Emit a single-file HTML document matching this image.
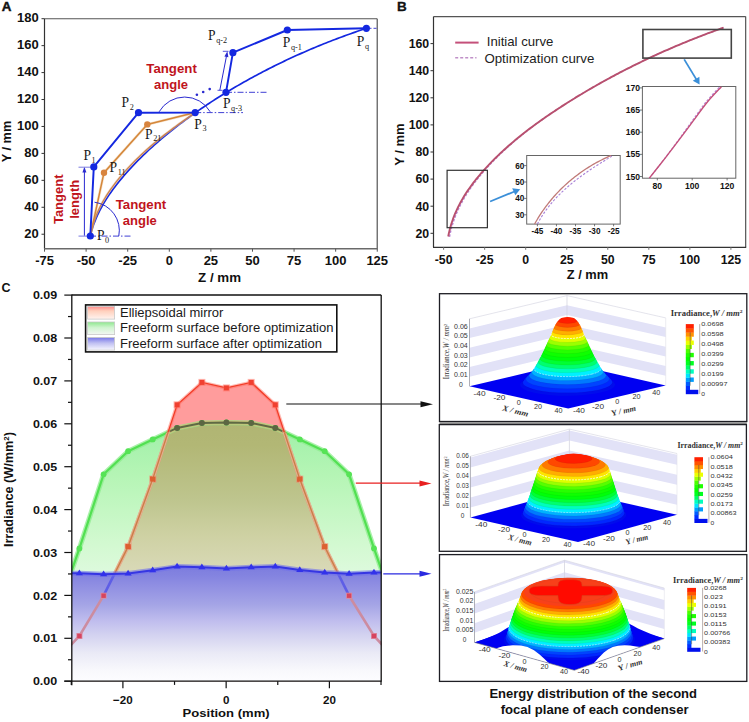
<!DOCTYPE html>
<html><head><meta charset="utf-8"><style>
html,body{margin:0;padding:0;background:#fff;}
svg{display:block;}
</style></head><body>
<svg width="749" height="722" viewBox="0 0 749 722">
<rect width="749" height="722" fill="#fff"/>
<text x="1.80" y="10.80" font-size="13.40" font-weight="bold" text-anchor="start" fill="#111" font-family="Liberation Sans" stroke="#111" stroke-width="0.45">A</text>
<line x1="44.50" y1="18.70" x2="377.20" y2="18.70" stroke="#555" stroke-width="1.10"/>
<line x1="377.20" y1="18.70" x2="377.20" y2="248.70" stroke="#444" stroke-width="1.10"/>
<line x1="44.50" y1="18.70" x2="44.50" y2="248.70" stroke="#333" stroke-width="1.20"/>
<line x1="44.00" y1="248.70" x2="377.70" y2="248.70" stroke="#6a6a6a" stroke-width="1.60"/>
<line x1="41.50" y1="234.22" x2="44.50" y2="234.22" stroke="#333" stroke-width="1.00"/>
<text x="38.80" y="237.62" font-size="13.00" font-weight="bold" text-anchor="end" fill="#111" font-family="Liberation Sans">20</text>
<line x1="41.50" y1="207.28" x2="44.50" y2="207.28" stroke="#333" stroke-width="1.00"/>
<text x="38.80" y="210.68" font-size="13.00" font-weight="bold" text-anchor="end" fill="#111" font-family="Liberation Sans">40</text>
<line x1="41.50" y1="180.34" x2="44.50" y2="180.34" stroke="#333" stroke-width="1.00"/>
<text x="38.80" y="183.74" font-size="13.00" font-weight="bold" text-anchor="end" fill="#111" font-family="Liberation Sans">60</text>
<line x1="41.50" y1="153.40" x2="44.50" y2="153.40" stroke="#333" stroke-width="1.00"/>
<text x="38.80" y="156.80" font-size="13.00" font-weight="bold" text-anchor="end" fill="#111" font-family="Liberation Sans">80</text>
<line x1="41.50" y1="126.46" x2="44.50" y2="126.46" stroke="#333" stroke-width="1.00"/>
<text x="38.80" y="129.86" font-size="13.00" font-weight="bold" text-anchor="end" fill="#111" font-family="Liberation Sans">100</text>
<line x1="41.50" y1="99.52" x2="44.50" y2="99.52" stroke="#333" stroke-width="1.00"/>
<text x="38.80" y="102.92" font-size="13.00" font-weight="bold" text-anchor="end" fill="#111" font-family="Liberation Sans">120</text>
<line x1="41.50" y1="72.58" x2="44.50" y2="72.58" stroke="#333" stroke-width="1.00"/>
<text x="38.80" y="75.98" font-size="13.00" font-weight="bold" text-anchor="end" fill="#111" font-family="Liberation Sans">140</text>
<line x1="41.50" y1="45.64" x2="44.50" y2="45.64" stroke="#333" stroke-width="1.00"/>
<text x="38.80" y="49.04" font-size="13.00" font-weight="bold" text-anchor="end" fill="#111" font-family="Liberation Sans">160</text>
<line x1="41.50" y1="18.70" x2="44.50" y2="18.70" stroke="#333" stroke-width="1.00"/>
<text x="38.80" y="22.10" font-size="13.00" font-weight="bold" text-anchor="end" fill="#111" font-family="Liberation Sans">180</text>
<line x1="44.53" y1="248.70" x2="44.53" y2="251.70" stroke="#555" stroke-width="1.00"/>
<text x="44.53" y="265.40" font-size="13.00" font-weight="bold" text-anchor="middle" fill="#111" font-family="Liberation Sans">-75</text>
<line x1="86.12" y1="248.70" x2="86.12" y2="251.70" stroke="#555" stroke-width="1.00"/>
<text x="86.12" y="265.40" font-size="13.00" font-weight="bold" text-anchor="middle" fill="#111" font-family="Liberation Sans">-50</text>
<line x1="127.71" y1="248.70" x2="127.71" y2="251.70" stroke="#555" stroke-width="1.00"/>
<text x="127.71" y="265.40" font-size="13.00" font-weight="bold" text-anchor="middle" fill="#111" font-family="Liberation Sans">-25</text>
<line x1="169.30" y1="248.70" x2="169.30" y2="251.70" stroke="#555" stroke-width="1.00"/>
<text x="169.30" y="265.40" font-size="13.00" font-weight="bold" text-anchor="middle" fill="#111" font-family="Liberation Sans">0</text>
<line x1="210.89" y1="248.70" x2="210.89" y2="251.70" stroke="#555" stroke-width="1.00"/>
<text x="210.89" y="265.40" font-size="13.00" font-weight="bold" text-anchor="middle" fill="#111" font-family="Liberation Sans">25</text>
<line x1="252.48" y1="248.70" x2="252.48" y2="251.70" stroke="#555" stroke-width="1.00"/>
<text x="252.48" y="265.40" font-size="13.00" font-weight="bold" text-anchor="middle" fill="#111" font-family="Liberation Sans">50</text>
<line x1="294.07" y1="248.70" x2="294.07" y2="251.70" stroke="#555" stroke-width="1.00"/>
<text x="294.07" y="265.40" font-size="13.00" font-weight="bold" text-anchor="middle" fill="#111" font-family="Liberation Sans">75</text>
<line x1="335.66" y1="248.70" x2="335.66" y2="251.70" stroke="#555" stroke-width="1.00"/>
<text x="335.66" y="265.40" font-size="13.00" font-weight="bold" text-anchor="middle" fill="#111" font-family="Liberation Sans">100</text>
<line x1="377.25" y1="248.70" x2="377.25" y2="251.70" stroke="#555" stroke-width="1.00"/>
<text x="377.25" y="265.40" font-size="13.00" font-weight="bold" text-anchor="middle" fill="#111" font-family="Liberation Sans">125</text>
<text x="219.60" y="281.60" font-size="12.80" font-weight="bold" text-anchor="middle" fill="#111" font-family="Liberation Sans" textLength="43.00" lengthAdjust="spacingAndGlyphs">Z / mm</text>
<text x="11.00" y="141.50" font-size="12.80" font-weight="bold" text-anchor="middle" fill="#111" font-family="Liberation Sans" transform="rotate(-90 11 141.5)">Y / mm</text>
<path d="M90.29,235.60 L90.90,233.24 L91.56,230.91 L92.26,228.61 L93.02,226.32 L93.82,224.06 L94.67,221.83 L95.56,219.61 L96.50,217.42 L97.47,215.25 L98.49,213.10 L99.55,210.97 L100.64,208.86 L101.77,206.77 L102.94,204.70 L104.14,202.65 L105.38,200.62 L106.65,198.60 L107.94,196.61 L109.27,194.63 L110.62,192.67 L112.01,190.73 L113.41,188.81 L114.84,186.90 L116.30,185.00 L117.77,183.12 L119.27,181.26 L120.79,179.41 L122.32,177.58 L123.87,175.76 L125.44,173.95 L127.02,172.16 L128.61,170.38 L130.22,168.61 L131.85,166.85 L133.49,165.11 L135.14,163.39 L136.81,161.67 L138.49,159.97 L140.18,158.28 L141.88,156.60 L143.60,154.93 L145.33,153.28 L147.07,151.63 L148.82,150.00 L150.59,148.38 L152.36,146.77 L154.15,145.18 L155.94,143.59 L157.75,142.02 L159.56,140.45 L161.39,138.90 L163.22,137.36 L165.06,135.82 L166.91,134.30 L168.77,132.79 L170.63,131.29 L172.51,129.79 L174.39,128.31 L176.27,126.84 L178.17,125.38 L180.07,123.92 L181.98,122.48 L183.89,121.04 L185.81,119.62 L187.73,118.20 L189.67,116.79 L191.60,115.39 L193.55,114.00 L195.50,112.62 L197.45,111.25 L199.42,109.89 L201.38,108.54 L203.36,107.19 L205.34,105.86 L207.32,104.53 L209.31,103.21 L211.31,101.90 L213.31,100.60 L215.32,99.30 L217.33,98.02 L219.35,96.74 L221.37,95.48 L223.40,94.22 L225.44,92.97 L227.48,91.72 L229.52,90.49 L231.57,89.26 L233.63,88.04 L235.69,86.83 L237.75,85.63 L239.82,84.44 L241.90,83.25 L243.98,82.07 L246.06,80.90 L248.15,79.74 L250.24,78.58 L252.34,77.44 L254.44,76.30 L256.55,75.16 L258.66,74.04 L260.78,72.92 L262.90,71.81 L265.02,70.71 L267.15,69.62 L269.29,68.53 L271.42,67.45 L273.56,66.38 L275.71,65.31 L277.86,64.25 L280.01,63.20 L282.17,62.16 L284.33,61.13 L286.49,60.10 L288.66,59.08 L290.84,58.07 L293.01,57.06 L295.19,56.07 L297.37,55.08 L299.56,54.10 L301.75,53.12 L303.94,52.16 L306.14,51.20 L308.34,50.25 L310.54,49.31 L312.75,48.37 L314.96,47.44 L317.17,46.52 L319.38,45.61 L321.60,44.71 L323.82,43.81 L326.04,42.92 L328.27,42.04 L330.50,41.17 L332.73,40.31 L334.97,39.45 L337.20,38.60 L339.44,37.76 L341.69,36.93 L343.93,36.10 L346.18,35.29 L348.43,34.48 L350.68,33.68 L352.93,32.89 L355.19,32.10 L357.45,31.32 L359.71,30.55 L361.97,29.79 L364.23,29.04 L366.50,28.30" fill="none" stroke="#1428e0" stroke-width="1.7"/>
<path d="M90.29,235.60 L90.69,233.19 L91.20,230.82 L91.78,228.46 L92.42,226.13 L93.11,223.82 L93.86,221.53 L94.66,219.26 L95.51,217.01 L96.41,214.79 L97.36,212.58 L98.35,210.40 L99.39,208.23 L100.47,206.09 L101.59,203.97 L102.75,201.87 L103.95,199.79 L105.18,197.73 L106.45,195.69 L107.75,193.67 L109.08,191.67 L110.45,189.69 L111.84,187.73 L113.26,185.79 L114.71,183.86 L116.18,181.96 L117.68,180.07 L119.20,178.20 L120.74,176.35 L122.29,174.52 L123.87,172.70 L125.46,170.90 L127.08,169.12 L128.70,167.35 L130.35,165.60 L132.01,163.86 L133.69,162.14 L135.38,160.43 L137.09,158.74 L138.81,157.06 L140.54,155.40 L142.29,153.75 L144.06,152.12 L145.83,150.50 L147.62,148.90 L149.42,147.31 L151.23,145.73 L153.06,144.17 L154.89,142.62 L156.74,141.08 L158.59,139.56 L160.46,138.05 L162.33,136.55 L164.22,135.06 L166.11,133.58 L168.01,132.12 L169.92,130.67 L171.84,129.23 L173.76,127.80 L175.69,126.38 L177.63,124.97 L179.57,123.57 L181.52,122.18 L183.47,120.81 L185.43,119.44 L187.40,118.08 L189.37,116.73 L191.35,115.39 L193.34,114.06 L195.33,112.74" fill="none" stroke="#eab88a" stroke-width="2.4" stroke-opacity="0.55"/>
<path d="M90.29,235.60 L90.69,233.19 L91.20,230.82 L91.78,228.46 L92.42,226.13 L93.11,223.82 L93.86,221.53 L94.66,219.26 L95.51,217.01 L96.41,214.79 L97.36,212.58 L98.35,210.40 L99.39,208.23 L100.47,206.09 L101.59,203.97 L102.75,201.87 L103.95,199.79 L105.18,197.73 L106.45,195.69 L107.75,193.67 L109.08,191.67 L110.45,189.69 L111.84,187.73 L113.26,185.79 L114.71,183.86 L116.18,181.96 L117.68,180.07 L119.20,178.20 L120.74,176.35 L122.29,174.52 L123.87,172.70 L125.46,170.90 L127.08,169.12 L128.70,167.35 L130.35,165.60 L132.01,163.86 L133.69,162.14 L135.38,160.43 L137.09,158.74 L138.81,157.06 L140.54,155.40 L142.29,153.75 L144.06,152.12 L145.83,150.50 L147.62,148.90 L149.42,147.31 L151.23,145.73 L153.06,144.17 L154.89,142.62 L156.74,141.08 L158.59,139.56 L160.46,138.05 L162.33,136.55 L164.22,135.06 L166.11,133.58 L168.01,132.12 L169.92,130.67 L171.84,129.23 L173.76,127.80 L175.69,126.38 L177.63,124.97 L179.57,123.57 L181.52,122.18 L183.47,120.81 L185.43,119.44 L187.40,118.08 L189.37,116.73 L191.35,115.39 L193.34,114.06 L195.33,112.74" fill="none" stroke="#c8804e" stroke-width="1.2"/>
<polyline points="90.3,236.0 104.0,172.7 147.3,124.4 195.2,112.6" fill="none" stroke="#e9b070" stroke-width="2.8" stroke-opacity="0.35"/>
<polyline points="90.3,236.0 104.0,172.7 147.3,124.4 195.2,112.6" fill="none" stroke="#d4873a" stroke-width="1.5"/>
<polyline points="90.3,236.0 93.8,166.9 138.5,112.7 195.2,112.6" fill="none" stroke="#1428e0" stroke-width="1.95" stroke-linejoin="round"/>
<polyline points="226.0,92.3 232.9,52.7 287.3,30.0 366.4,28.3" fill="none" stroke="#1428e0" stroke-width="1.95" stroke-linejoin="round"/>
<line x1="84.40" y1="235.80" x2="84.40" y2="171.50" stroke="#2a2ad0" stroke-width="1.00"/>
<path d="M84.4,166.8 L82.4,172.5 L86.4,172.5 Z" fill="#2a2ad0"/>
<line x1="78.50" y1="167.20" x2="93.00" y2="167.20" stroke="#7a7ae0" stroke-width="1.00"/>
<line x1="78.50" y1="236.10" x2="90.00" y2="236.10" stroke="#7a7ae0" stroke-width="1.00"/>
<line x1="90.00" y1="236.10" x2="132.00" y2="236.10" stroke="#2a2ad0" stroke-width="0.90" stroke-dasharray="6,2,1.5,2"/>
<path d="M118.8,236 A28.5,28.5 0 0 0 94.5,202.2" fill="none" stroke="#2a2ad0" stroke-width="1"/>
<path d="M159.1,111.8 A29.5,29.5 0 0 1 210.2,111.8" fill="none" stroke="#2a2ad0" stroke-width="1"/>
<line x1="195.20" y1="112.60" x2="243.00" y2="112.60" stroke="#2a2ad0" stroke-width="0.90" stroke-dasharray="6,2,1.5,2"/>
<line x1="226.00" y1="92.30" x2="268.00" y2="92.30" stroke="#2a2ad0" stroke-width="0.90" stroke-dasharray="6,2,1.5,2"/>
<line x1="370.00" y1="28.30" x2="376.50" y2="28.30" stroke="#2a2ad0" stroke-width="0.90" stroke-dasharray="1.5,2,4,2"/>
<line x1="219.80" y1="90.30" x2="226.60" y2="55.50" stroke="#2a2ad0" stroke-width="1.00"/>
<path d="M227.4,51.2 L224.4,56.5 L228.4,57.3 Z" fill="#2a2ad0"/>
<line x1="217.50" y1="90.30" x2="222.50" y2="90.30" stroke="#2a2ad0" stroke-width="0.80"/>
<line x1="222.80" y1="51.30" x2="228.50" y2="51.30" stroke="#2a2ad0" stroke-width="0.80"/>
<circle cx="196.9" cy="94.7" r="1.3" fill="#2a2ad0"/>
<circle cx="203.2" cy="92.0" r="1.3" fill="#2a2ad0"/>
<circle cx="209.7" cy="89.1" r="1.3" fill="#2a2ad0"/>
<circle cx="90.3" cy="236.0" r="3.6" fill="#1428e0"/>
<circle cx="93.8" cy="166.9" r="3.6" fill="#1428e0"/>
<circle cx="138.5" cy="112.7" r="3.6" fill="#1428e0"/>
<circle cx="195.2" cy="112.6" r="3.6" fill="#1428e0"/>
<circle cx="226.0" cy="92.3" r="3.6" fill="#1428e0"/>
<circle cx="232.9" cy="52.7" r="3.6" fill="#1428e0"/>
<circle cx="287.3" cy="30.0" r="3.6" fill="#1428e0"/>
<circle cx="366.4" cy="28.3" r="3.6" fill="#1428e0"/>
<circle cx="104.0" cy="172.7" r="3.2" fill="#d8843e"/>
<circle cx="147.3" cy="124.4" r="3.2" fill="#d8843e"/>
<text x="96.9" y="240.2" font-family="Liberation Serif" font-size="13.6" fill="#1a1a1a">P<tspan font-size="8.2" dy="2.6" dx="0.6">0</tspan></text>
<text x="83.4" y="160.0" font-family="Liberation Serif" font-size="13.6" fill="#1a1a1a">P<tspan font-size="8.2" dy="2.6" dx="0.6">1</tspan></text>
<text x="109.5" y="172.0" font-family="Liberation Serif" font-size="13.6" fill="#1a1a1a">P<tspan font-size="8.2" dy="2.6" dx="0.6">11</tspan></text>
<text x="121.6" y="107.4" font-family="Liberation Serif" font-size="13.6" fill="#1a1a1a">P<tspan font-size="8.2" dy="2.6" dx="0.6">2</tspan></text>
<text x="145.1" y="138.8" font-family="Liberation Serif" font-size="13.6" fill="#1a1a1a">P<tspan font-size="8.2" dy="2.6" dx="0.6">21</tspan></text>
<text x="194.3" y="128.7" font-family="Liberation Serif" font-size="13.6" fill="#1a1a1a">P<tspan font-size="8.2" dy="2.6" dx="0.6">3</tspan></text>
<text x="222.9" y="108.2" font-family="Liberation Serif" font-size="13.6" fill="#1a1a1a">P<tspan font-size="8.2" dy="3.0" dx="0.6">q-3</tspan></text>
<text x="208.0" y="39.9" font-family="Liberation Serif" font-size="13.6" fill="#1a1a1a">P<tspan font-size="8.2" dy="3.0" dx="0.6">q-2</tspan></text>
<text x="282.8" y="47.4" font-family="Liberation Serif" font-size="13.6" fill="#1a1a1a">P<tspan font-size="8.2" dy="3.0" dx="0.6">q-1</tspan></text>
<text x="356.8" y="45.5" font-family="Liberation Serif" font-size="13.6" fill="#1a1a1a">P<tspan font-size="8.2" dy="3.4" dx="0.6">q</tspan></text>
<text x="146.30" y="72.70" font-size="13.00" font-weight="bold" text-anchor="start" fill="#c0141c" font-family="Liberation Sans" textLength="50.50" lengthAdjust="spacingAndGlyphs">Tangent</text>
<text x="154.00" y="88.70" font-size="13.00" font-weight="bold" text-anchor="start" fill="#c0141c" font-family="Liberation Sans" textLength="34.00" lengthAdjust="spacingAndGlyphs">angle</text>
<text x="115.70" y="208.80" font-size="13.00" font-weight="bold" text-anchor="start" fill="#c0141c" font-family="Liberation Sans" textLength="50.50" lengthAdjust="spacingAndGlyphs">Tangent</text>
<text x="122.80" y="224.60" font-size="13.00" font-weight="bold" text-anchor="start" fill="#c0141c" font-family="Liberation Sans" textLength="34.00" lengthAdjust="spacingAndGlyphs">angle</text>
<text x="0" y="0" font-size="13" font-weight="bold" fill="#c0141c" font-family="Liberation Sans" text-anchor="middle" transform="translate(62.5 199.3) rotate(-90)">Tangent</text>
<text x="0" y="0" font-size="13" font-weight="bold" fill="#c0141c" font-family="Liberation Sans" text-anchor="middle" transform="translate(79.2 199.3) rotate(-90)">length</text>
<text x="397.00" y="10.80" font-size="13.50" font-weight="bold" text-anchor="start" fill="#111" font-family="Liberation Sans" stroke="#111" stroke-width="0.3">B</text>
<line x1="433.50" y1="16.60" x2="745.70" y2="16.60" stroke="#555" stroke-width="1.10"/>
<line x1="745.70" y1="16.60" x2="745.70" y2="247.30" stroke="#444" stroke-width="1.10"/>
<line x1="433.50" y1="16.60" x2="433.50" y2="247.30" stroke="#333" stroke-width="1.20"/>
<line x1="433.00" y1="247.30" x2="746.20" y2="247.30" stroke="#333" stroke-width="1.30"/>
<line x1="430.50" y1="233.30" x2="433.50" y2="233.30" stroke="#333" stroke-width="1.00"/>
<text x="429.20" y="237.60" font-size="12.30" font-weight="bold" text-anchor="end" fill="#111" font-family="Liberation Sans">20</text>
<line x1="430.50" y1="206.20" x2="433.50" y2="206.20" stroke="#333" stroke-width="1.00"/>
<text x="429.20" y="210.50" font-size="12.30" font-weight="bold" text-anchor="end" fill="#111" font-family="Liberation Sans">40</text>
<line x1="430.50" y1="179.10" x2="433.50" y2="179.10" stroke="#333" stroke-width="1.00"/>
<text x="429.20" y="183.40" font-size="12.30" font-weight="bold" text-anchor="end" fill="#111" font-family="Liberation Sans">60</text>
<line x1="430.50" y1="152.00" x2="433.50" y2="152.00" stroke="#333" stroke-width="1.00"/>
<text x="429.20" y="156.30" font-size="12.30" font-weight="bold" text-anchor="end" fill="#111" font-family="Liberation Sans">80</text>
<line x1="430.50" y1="124.90" x2="433.50" y2="124.90" stroke="#333" stroke-width="1.00"/>
<text x="429.20" y="129.20" font-size="12.30" font-weight="bold" text-anchor="end" fill="#111" font-family="Liberation Sans">100</text>
<line x1="430.50" y1="97.80" x2="433.50" y2="97.80" stroke="#333" stroke-width="1.00"/>
<text x="429.20" y="102.10" font-size="12.30" font-weight="bold" text-anchor="end" fill="#111" font-family="Liberation Sans">120</text>
<line x1="430.50" y1="70.70" x2="433.50" y2="70.70" stroke="#333" stroke-width="1.00"/>
<text x="429.20" y="75.00" font-size="12.30" font-weight="bold" text-anchor="end" fill="#111" font-family="Liberation Sans">140</text>
<line x1="430.50" y1="43.60" x2="433.50" y2="43.60" stroke="#333" stroke-width="1.00"/>
<text x="429.20" y="47.90" font-size="12.30" font-weight="bold" text-anchor="end" fill="#111" font-family="Liberation Sans">160</text>
<line x1="443.62" y1="247.30" x2="443.62" y2="249.80" stroke="#777" stroke-width="1.00"/>
<text x="443.62" y="264.30" font-size="12.30" font-weight="bold" text-anchor="middle" fill="#111" font-family="Liberation Sans">-50</text>
<line x1="484.66" y1="247.30" x2="484.66" y2="249.80" stroke="#777" stroke-width="1.00"/>
<text x="484.66" y="264.30" font-size="12.30" font-weight="bold" text-anchor="middle" fill="#111" font-family="Liberation Sans">-25</text>
<line x1="525.70" y1="247.30" x2="525.70" y2="249.80" stroke="#777" stroke-width="1.00"/>
<text x="525.70" y="264.30" font-size="12.30" font-weight="bold" text-anchor="middle" fill="#111" font-family="Liberation Sans">0</text>
<line x1="566.74" y1="247.30" x2="566.74" y2="249.80" stroke="#777" stroke-width="1.00"/>
<text x="566.74" y="264.30" font-size="12.30" font-weight="bold" text-anchor="middle" fill="#111" font-family="Liberation Sans">25</text>
<line x1="607.78" y1="247.30" x2="607.78" y2="249.80" stroke="#777" stroke-width="1.00"/>
<text x="607.78" y="264.30" font-size="12.30" font-weight="bold" text-anchor="middle" fill="#111" font-family="Liberation Sans">50</text>
<line x1="648.82" y1="247.30" x2="648.82" y2="249.80" stroke="#777" stroke-width="1.00"/>
<text x="648.82" y="264.30" font-size="12.30" font-weight="bold" text-anchor="middle" fill="#111" font-family="Liberation Sans">75</text>
<line x1="689.86" y1="247.30" x2="689.86" y2="249.80" stroke="#777" stroke-width="1.00"/>
<text x="689.86" y="264.30" font-size="12.30" font-weight="bold" text-anchor="middle" fill="#111" font-family="Liberation Sans">100</text>
<line x1="730.90" y1="247.30" x2="730.90" y2="249.80" stroke="#777" stroke-width="1.00"/>
<text x="730.90" y="264.30" font-size="12.30" font-weight="bold" text-anchor="middle" fill="#111" font-family="Liberation Sans">125</text>
<text x="587.50" y="279.40" font-size="12.60" font-weight="bold" text-anchor="middle" fill="#111" font-family="Liberation Sans" textLength="41.40" lengthAdjust="spacingAndGlyphs">Z / mm</text>
<text x="0" y="0" font-size="13" font-weight="bold" fill="#111" font-family="Liberation Sans" text-anchor="middle" transform="translate(404.3 144.6) rotate(-90)" textLength="42.5" lengthAdjust="spacingAndGlyphs">Y / mm</text>
<line x1="455.20" y1="42.60" x2="478.60" y2="42.60" stroke="#c4507a" stroke-width="2.00"/>
<line x1="455.20" y1="57.80" x2="476.50" y2="57.80" stroke="#c090c8" stroke-width="1.50" stroke-dasharray="3,2"/>
<text x="486.80" y="46.10" font-size="13.00" font-weight="normal" text-anchor="start" fill="#222" font-family="Liberation Sans" textLength="66.50" lengthAdjust="spacingAndGlyphs">Initial curve</text>
<text x="484.40" y="62.60" font-size="13.00" font-weight="normal" text-anchor="start" fill="#222" font-family="Liberation Sans" textLength="109.90" lengthAdjust="spacingAndGlyphs">Optimization curve</text>
<path d="M449.54,236.88 L450.00,234.44 L450.53,232.03 L451.11,229.63 L451.73,227.26 L452.40,224.93 L453.13,222.61 L453.90,220.32 L454.71,218.06 L455.56,215.81 L456.47,213.60 L457.42,211.41 L458.40,209.24 L459.43,207.09 L460.48,204.96 L461.59,202.87 L462.73,200.78 L463.90,198.72 L465.11,196.68 L466.35,194.67 L467.62,192.66 L468.92,190.69 L470.25,188.72 L471.62,186.78 L473.00,184.86 L474.42,182.95 L475.86,181.07 L477.32,179.19 L478.81,177.34 L480.32,175.50 L481.85,173.68 L483.39,171.87 L484.95,170.08 L486.54,168.31 L488.13,166.54 L489.74,164.80 L491.38,163.06 L493.01,161.34 L494.68,159.64 L496.36,157.95 L498.04,156.27 L499.75,154.60 L501.46,152.95 L503.19,151.31 L504.93,149.68 L506.69,148.07 L508.45,146.47 L510.24,144.88 L512.03,143.30 L513.84,141.74 L515.65,140.18 L517.47,138.65 L519.31,137.12 L521.16,135.60 L523.01,134.09 L524.88,132.59 L526.76,131.11 L528.64,129.64 L530.54,128.17 L532.44,126.72 L534.35,125.27 L536.27,123.85 L538.19,122.42 L540.13,121.01 L542.10,119.61 L544.08,118.22 L546.06,116.84 L548.05,115.48 L550.04,114.12 L552.04,112.77 L554.05,111.42 L556.05,110.09 L558.07,108.76 L560.09,107.45 L562.11,106.14 L564.14,104.83 L566.17,103.54 L568.20,102.25 L570.23,100.97 L572.27,99.70 L574.32,98.44 L576.36,97.18 L578.41,95.93 L580.46,94.69 L582.52,93.45 L584.58,92.22 L586.64,91.00 L588.71,89.79 L590.78,88.59 L592.85,87.39 L594.93,86.20 L597.00,85.02 L599.09,83.84 L601.17,82.67 L603.26,81.51 L605.35,80.35 L607.45,79.21 L609.55,78.06 L611.65,76.93 L613.76,75.80 L615.87,74.68 L617.98,73.57 L620.10,72.46 L622.22,71.36 L624.34,70.27 L626.47,69.18 L628.60,68.10 L630.73,67.03 L632.87,65.96 L635.01,64.90 L637.15,63.85 L639.30,62.80 L641.45,61.76 L643.60,60.72 L645.76,59.69 L647.92,58.67 L650.09,57.65 L652.25,56.65 L654.43,55.64 L656.60,54.65 L658.78,53.65 L660.96,52.67 L663.15,51.69 L665.34,50.72 L667.53,49.76 L669.73,48.80 L671.92,47.85 L674.13,46.90 L676.33,45.96 L678.54,45.03 L680.76,44.10 L682.98,43.18 L685.20,42.27 L687.42,41.36 L689.65,40.46 L691.88,39.56 L694.12,38.67 L696.35,37.79 L698.60,36.91 L700.84,36.05 L703.09,35.18 L705.35,34.32 L707.60,33.47 L709.86,32.63 L712.13,31.79 L714.39,30.96 L716.66,30.13 L718.94,29.31 L721.22,28.50 L723.50,27.69" fill="none" stroke="#b888d8" stroke-width="1.4" stroke-dasharray="2.5,1.5"/>
<path d="M448.24,236.49 L448.71,234.05 L449.24,231.64 L449.83,229.25 L450.46,226.88 L451.14,224.55 L451.88,222.24 L452.66,219.95 L453.48,217.69 L454.35,215.45 L455.27,213.24 L456.23,211.05 L457.23,208.89 L458.27,206.74 L459.34,204.62 L460.46,202.53 L461.62,200.45 L462.81,198.39 L464.03,196.36 L465.29,194.35 L466.58,192.35 L467.90,190.38 L469.25,188.42 L470.64,186.49 L472.04,184.57 L473.48,182.67 L474.94,180.79 L476.42,178.92 L477.93,177.08 L479.46,175.24 L481.01,173.43 L482.58,171.63 L484.16,169.84 L485.77,168.08 L487.39,166.32 L489.02,164.58 L490.68,162.85 L492.34,161.14 L494.03,159.44 L495.73,157.76 L497.44,156.09 L499.17,154.43 L500.91,152.78 L502.66,151.15 L504.43,149.53 L506.21,147.93 L508.00,146.33 L509.81,144.75 L511.63,143.18 L513.46,141.63 L515.30,140.08 L517.15,138.55 L519.01,137.03 L520.89,135.52 L522.77,134.02 L524.66,132.53 L526.57,131.05 L528.48,129.59 L530.40,128.13 L532.33,126.69 L534.27,125.25 L536.22,123.83 L538.17,122.41 L540.13,121.01 L542.10,119.61 L544.08,118.22 L546.06,116.84 L548.05,115.48 L550.04,114.12 L552.04,112.77 L554.05,111.42 L556.05,110.09 L558.07,108.76 L560.09,107.45 L562.11,106.14 L564.14,104.83 L566.17,103.54 L568.20,102.25 L570.23,100.97 L572.27,99.70 L574.32,98.44 L576.36,97.18 L578.41,95.93 L580.46,94.69 L582.52,93.45 L584.58,92.22 L586.64,91.00 L588.71,89.79 L590.78,88.59 L592.85,87.39 L594.93,86.20 L597.00,85.02 L599.09,83.84 L601.17,82.67 L603.26,81.51 L605.35,80.35 L607.45,79.21 L609.55,78.06 L611.65,76.93 L613.76,75.80 L615.87,74.68 L617.98,73.57 L620.10,72.46 L622.22,71.36 L624.34,70.27 L626.47,69.18 L628.60,68.10 L630.73,67.03 L632.87,65.96 L635.01,64.90 L637.15,63.85 L639.30,62.80 L641.45,61.76 L643.60,60.72 L645.76,59.69 L647.92,58.67 L650.09,57.65 L652.25,56.65 L654.43,55.64 L656.60,54.65 L658.78,53.65 L660.96,52.67 L663.15,51.69 L665.34,50.72 L667.53,49.76 L669.73,48.80 L671.92,47.85 L674.13,46.90 L676.33,45.96 L678.54,45.03 L680.76,44.10 L682.98,43.18 L685.20,42.27 L687.42,41.36 L689.65,40.46 L691.88,39.56 L694.12,38.67 L696.35,37.79 L698.60,36.91 L700.84,36.05 L703.09,35.18 L705.35,34.32 L707.60,33.47 L709.86,32.63 L712.13,31.79 L714.39,30.96 L716.66,30.13 L718.94,29.31 L721.22,28.50 L723.50,27.69" fill="none" stroke="#b8506e" stroke-width="1.9"/>
<rect x="447.1" y="170.3" width="40.3" height="57.4" fill="none" stroke="#333" stroke-width="1.2"/>
<rect x="642.9" y="29.5" width="88.4" height="28.6" fill="none" stroke="#444" stroke-width="1.6"/>
<line x1="490.10" y1="201.50" x2="514.50" y2="191.50" stroke="#3b8fd8" stroke-width="1.80"/>
<path d="M520.2,189.2 L512.2,188.2 L515.3,195.2 Z" fill="#3b8fd8"/>
<line x1="684.20" y1="59.40" x2="696.50" y2="79.60" stroke="#3b8fd8" stroke-width="1.80"/>
<path d="M699.6,84.6 L692.8,80.8 L699.4,76.8 Z" fill="#3b8fd8"/>
<rect x="526.7" y="155.5" width="93.5" height="68.6" fill="#fff" stroke="#666" stroke-width="1"/>
<line x1="524.20" y1="214.80" x2="526.70" y2="214.80" stroke="#555" stroke-width="0.80"/>
<text x="524.30" y="217.70" font-size="8.20" font-weight="bold" text-anchor="end" fill="#111" font-family="Liberation Sans">30</text>
<line x1="524.20" y1="198.40" x2="526.70" y2="198.40" stroke="#555" stroke-width="0.80"/>
<text x="524.30" y="201.30" font-size="8.20" font-weight="bold" text-anchor="end" fill="#111" font-family="Liberation Sans">40</text>
<line x1="524.20" y1="182.00" x2="526.70" y2="182.00" stroke="#555" stroke-width="0.80"/>
<text x="524.30" y="184.90" font-size="8.20" font-weight="bold" text-anchor="end" fill="#111" font-family="Liberation Sans">50</text>
<line x1="524.20" y1="165.60" x2="526.70" y2="165.60" stroke="#555" stroke-width="0.80"/>
<text x="524.30" y="168.50" font-size="8.20" font-weight="bold" text-anchor="end" fill="#111" font-family="Liberation Sans">60</text>
<line x1="537.40" y1="224.10" x2="537.40" y2="226.30" stroke="#555" stroke-width="0.80"/>
<text x="537.40" y="234.40" font-size="8.20" font-weight="bold" text-anchor="middle" fill="#111" font-family="Liberation Sans">-45</text>
<line x1="556.45" y1="224.10" x2="556.45" y2="226.30" stroke="#555" stroke-width="0.80"/>
<text x="556.45" y="234.40" font-size="8.20" font-weight="bold" text-anchor="middle" fill="#111" font-family="Liberation Sans">-40</text>
<line x1="575.50" y1="224.10" x2="575.50" y2="226.30" stroke="#555" stroke-width="0.80"/>
<text x="575.50" y="234.40" font-size="8.20" font-weight="bold" text-anchor="middle" fill="#111" font-family="Liberation Sans">-35</text>
<line x1="594.55" y1="224.10" x2="594.55" y2="226.30" stroke="#555" stroke-width="0.80"/>
<text x="594.55" y="234.40" font-size="8.20" font-weight="bold" text-anchor="middle" fill="#111" font-family="Liberation Sans">-30</text>
<line x1="613.60" y1="224.10" x2="613.60" y2="226.30" stroke="#555" stroke-width="0.80"/>
<text x="613.60" y="234.40" font-size="8.20" font-weight="bold" text-anchor="middle" fill="#111" font-family="Liberation Sans">-25</text>
<path d="M537.40,224.11 L538.23,222.55 L539.07,221.01 L539.94,219.49 L540.83,217.98 L541.74,216.50 L542.68,215.03 L543.63,213.58 L544.60,212.15 L545.60,210.73 L546.62,209.33 L547.65,207.95 L548.70,206.59 L549.77,205.24 L550.86,203.90 L551.97,202.59 L553.10,201.28 L554.24,200.00 L555.39,198.72 L556.57,197.47 L557.76,196.22 L558.96,194.99 L560.18,193.78 L561.41,192.58 L562.66,191.39 L563.92,190.21 L565.20,189.05 L566.48,187.90 L567.78,186.76 L569.09,185.64 L570.41,184.53 L571.75,183.42 L573.09,182.33 L574.44,181.25 L575.81,180.18 L577.18,179.13 L578.56,178.08 L579.95,177.04 L581.35,176.01 L582.75,174.99 L584.16,173.98 L585.58,172.98 L587.01,171.99 L588.44,171.01 L589.88,170.03 L591.32,169.06 L592.77,168.10 L594.22,167.15 L595.67,166.21 L597.13,165.27 L598.59,164.34 L600.05,163.41 L601.52,162.50 L602.99,161.58 L604.46,160.68 L605.93,159.78 L607.40,158.88 L608.87,157.99 L610.34,157.10 L611.81,156.22" fill="none" stroke="#a880d8" stroke-width="1.1" stroke-dasharray="2.4,1.6"/>
<path d="M534.60,224.10 L535.46,222.54 L536.34,221.00 L537.24,219.46 L538.15,217.94 L539.09,216.43 L540.04,214.93 L541.01,213.44 L542.00,211.97 L543.00,210.50 L544.02,209.05 L545.06,207.61 L546.12,206.18 L547.19,204.77 L548.28,203.37 L549.39,201.98 L550.51,200.60 L551.64,199.24 L552.80,197.89 L553.96,196.55 L555.15,195.23 L556.34,193.92 L557.56,192.62 L558.79,191.34 L560.03,190.07 L561.28,188.82 L562.56,187.58 L563.84,186.35 L565.14,185.14 L566.45,183.95 L567.78,182.76 L569.12,181.60 L570.47,180.45 L571.83,179.31 L573.21,178.19 L574.60,177.08 L576.00,175.99 L577.42,174.92 L578.84,173.86 L580.28,172.82 L581.73,171.79 L583.19,170.78 L584.66,169.78 L586.14,168.81 L587.64,167.84 L589.14,166.90 L590.65,165.97 L592.18,165.06 L593.71,164.17 L595.26,163.29 L596.81,162.43 L598.38,161.59 L599.95,160.77 L601.53,159.96 L603.12,159.17 L604.72,158.40 L606.33,157.65 L607.95,156.92 L609.57,156.20 L611.20,155.51" fill="none" stroke="#c07a78" stroke-width="1.3"/>
<rect x="642.4" y="86.5" width="93.4" height="91.7" fill="#fff" stroke="#666" stroke-width="1"/>
<line x1="639.90" y1="176.50" x2="642.40" y2="176.50" stroke="#555" stroke-width="0.80"/>
<text x="640.00" y="179.60" font-size="8.60" font-weight="bold" text-anchor="end" fill="#111" font-family="Liberation Sans">150</text>
<line x1="639.90" y1="154.35" x2="642.40" y2="154.35" stroke="#555" stroke-width="0.80"/>
<text x="640.00" y="157.45" font-size="8.60" font-weight="bold" text-anchor="end" fill="#111" font-family="Liberation Sans">155</text>
<line x1="639.90" y1="132.20" x2="642.40" y2="132.20" stroke="#555" stroke-width="0.80"/>
<text x="640.00" y="135.30" font-size="8.60" font-weight="bold" text-anchor="end" fill="#111" font-family="Liberation Sans">160</text>
<line x1="639.90" y1="110.05" x2="642.40" y2="110.05" stroke="#555" stroke-width="0.80"/>
<text x="640.00" y="113.15" font-size="8.60" font-weight="bold" text-anchor="end" fill="#111" font-family="Liberation Sans">165</text>
<line x1="639.90" y1="87.90" x2="642.40" y2="87.90" stroke="#555" stroke-width="0.80"/>
<text x="640.00" y="91.00" font-size="8.60" font-weight="bold" text-anchor="end" fill="#111" font-family="Liberation Sans">170</text>
<line x1="657.30" y1="178.20" x2="657.30" y2="180.40" stroke="#555" stroke-width="0.80"/>
<text x="657.30" y="189.40" font-size="8.60" font-weight="bold" text-anchor="middle" fill="#111" font-family="Liberation Sans">80</text>
<line x1="692.20" y1="178.20" x2="692.20" y2="180.40" stroke="#555" stroke-width="0.80"/>
<text x="692.20" y="189.40" font-size="8.60" font-weight="bold" text-anchor="middle" fill="#111" font-family="Liberation Sans">100</text>
<line x1="727.10" y1="178.20" x2="727.10" y2="180.40" stroke="#555" stroke-width="0.80"/>
<text x="727.10" y="189.40" font-size="8.60" font-weight="bold" text-anchor="middle" fill="#111" font-family="Liberation Sans">120</text>
<path d="M649.60,178.10 C652.43,174.42 661.60,162.60 666.60,156.00 C671.60,149.40 675.27,144.43 679.60,138.50 C683.93,132.57 688.25,126.43 692.60,120.40 C696.95,114.37 701.13,107.93 705.70,102.30 C710.27,96.67 717.62,89.22 720.00,86.60" fill="none" stroke="#b888d8" stroke-width="1.2" stroke-dasharray="2.4,1.6"/>
<path d="M649.30,178.10 C652.20,174.43 661.58,162.67 666.70,156.10 C671.82,149.53 675.55,144.60 680.00,138.70 C684.45,132.80 688.93,126.70 693.40,120.70 C697.87,114.70 702.13,108.37 706.80,102.70 C711.47,97.03 718.97,89.37 721.40,86.70" fill="none" stroke="#c4507a" stroke-width="1.4"/>
<text x="1.60" y="292.20" font-size="12.50" font-weight="bold" text-anchor="start" fill="#111" font-family="Liberation Sans">C</text>
<defs>
<clipPath id="cplot"><rect x="71.8" y="295.0" width="309.4" height="386.2"/></clipPath>
<clipPath id="cRed"><polygon points="55.0,662.0 79.4,636.0 103.6,595.7 128.1,546.6 152.7,479.1 177.1,404.8 201.9,382.4 226.4,387.9 251.2,382.4 275.3,404.8 299.8,479.1 324.7,546.6 349.1,595.7 374.0,636.0 398.4,662.0 398.4,683.2 55.0,683.2"/></clipPath>
<clipPath id="cGreen"><polygon points="55.0,618.5 79.4,548.4 103.6,474.3 128.1,451.2 152.7,439.4 177.1,428.0 201.9,423.0 226.4,422.5 251.2,423.0 275.3,428.0 299.8,439.4 324.7,451.2 349.1,474.3 374.0,548.4 398.4,618.5 398.4,683.2 55.0,683.2"/></clipPath>
<clipPath id="cBlue"><polygon points="55.0,573.0 79.4,573.3 103.6,574.3 128.1,573.5 152.7,570.3 177.1,566.6 201.9,567.3 226.4,568.6 251.2,567.3 275.3,566.6 299.8,570.0 324.7,572.5 349.1,573.8 374.0,572.5 398.4,572.6 398.4,683.2 55.0,683.2"/></clipPath>
<linearGradient id="gG" gradientUnits="userSpaceOnUse" x1="0" y1="420.0" x2="0" y2="681.0"><stop offset="0.0000" stop-color="rgb(150,236,158)"/><stop offset="0.0766" stop-color="rgb(166,241,172)"/><stop offset="0.2107" stop-color="rgb(181,245,181)"/><stop offset="0.4789" stop-color="rgb(211,249,209)"/><stop offset="0.5939" stop-color="rgb(222,250,222)"/><stop offset="1.0000" stop-color="rgb(255,255,255)"/></linearGradient>
<linearGradient id="gO" gradientUnits="userSpaceOnUse" x1="0" y1="420.0" x2="0" y2="681.0"><stop offset="0.0000" stop-color="rgb(176,181,115)"/><stop offset="0.0958" stop-color="rgb(178,183,117)"/><stop offset="0.3065" stop-color="rgb(190,197,142)"/><stop offset="0.4406" stop-color="rgb(206,209,163)"/><stop offset="0.5939" stop-color="rgb(218,218,185)"/><stop offset="1.0000" stop-color="rgb(250,250,245)"/></linearGradient>
<linearGradient id="gB" gradientUnits="userSpaceOnUse" x1="0" y1="566.0" x2="0" y2="681.0"><stop offset="0.0000" stop-color="rgb(124,124,222)"/><stop offset="0.0870" stop-color="rgb(132,132,224)"/><stop offset="0.1652" stop-color="rgb(143,142,226)"/><stop offset="0.3391" stop-color="rgb(165,165,230)"/><stop offset="0.4783" stop-color="rgb(192,189,238)"/><stop offset="0.6000" stop-color="rgb(211,210,240)"/><stop offset="0.7565" stop-color="rgb(234,234,246)"/><stop offset="0.9043" stop-color="rgb(248,248,252)"/><stop offset="1.0000" stop-color="rgb(253,253,255)"/></linearGradient>
</defs>
<g clip-path="url(#cplot)">
<polygon points="55.0,618.5 79.4,548.4 103.6,474.3 128.1,451.2 152.7,439.4 177.1,428.0 201.9,423.0 226.4,422.5 251.2,423.0 275.3,428.0 299.8,439.4 324.7,451.2 349.1,474.3 374.0,548.4 398.4,618.5 398.4,683.2 55.0,683.2" fill="url(#gG)"/>
<polygon points="55.0,662.0 79.4,636.0 103.6,595.7 128.1,546.6 152.7,479.1 177.1,404.8 201.9,382.4 226.4,387.9 251.2,382.4 275.3,404.8 299.8,479.1 324.7,546.6 349.1,595.7 374.0,636.0 398.4,662.0 398.4,683.2 55.0,683.2" fill="#ff9c9c"/>
<g clip-path="url(#cRed)"><rect x="71.8" y="380" width="309.4" height="305" fill="url(#gO)" clip-path="url(#cGreen)"/></g>
<polyline points="55.0,618.5 79.4,548.4 103.6,474.3 128.1,451.2 152.7,439.4 177.1,428.0 201.9,423.0 226.4,422.5 251.2,423.0 275.3,428.0 299.8,439.4 324.7,451.2 349.1,474.3 374.0,548.4 398.4,618.5" fill="none" stroke="#8eec8e" stroke-width="5" stroke-opacity="0.75" stroke-linejoin="round"/>
<polyline points="55.0,618.5 79.4,548.4 103.6,474.3 128.1,451.2 152.7,439.4 177.1,428.0 201.9,423.0 226.4,422.5 251.2,423.0 275.3,428.0 299.8,439.4 324.7,451.2 349.1,474.3 374.0,548.4 398.4,618.5" fill="none" stroke="#52e052" stroke-width="2.2" stroke-linejoin="round"/>
<circle cx="79.4" cy="548.4" r="2.9" fill="#56e356"/>
<circle cx="103.6" cy="474.3" r="2.9" fill="#56e356"/>
<circle cx="128.1" cy="451.2" r="2.9" fill="#56e356"/>
<circle cx="152.7" cy="439.4" r="2.9" fill="#56e356"/>
<circle cx="177.1" cy="428.0" r="2.9" fill="#56e356"/>
<circle cx="201.9" cy="423.0" r="2.9" fill="#56e356"/>
<circle cx="226.4" cy="422.5" r="2.9" fill="#56e356"/>
<circle cx="251.2" cy="423.0" r="2.9" fill="#56e356"/>
<circle cx="275.3" cy="428.0" r="2.9" fill="#56e356"/>
<circle cx="299.8" cy="439.4" r="2.9" fill="#56e356"/>
<circle cx="324.7" cy="451.2" r="2.9" fill="#56e356"/>
<circle cx="349.1" cy="474.3" r="2.9" fill="#56e356"/>
<circle cx="374.0" cy="548.4" r="2.9" fill="#56e356"/>
<g clip-path="url(#cRed)">
<polyline points="55.0,618.5 79.4,548.4 103.6,474.3 128.1,451.2 152.7,439.4 177.1,428.0 201.9,423.0 226.4,422.5 251.2,423.0 275.3,428.0 299.8,439.4 324.7,451.2 349.1,474.3 374.0,548.4 398.4,618.5" fill="none" stroke="#c4c47a" stroke-width="4.2"/>
<polyline points="55.0,618.5 79.4,548.4 103.6,474.3 128.1,451.2 152.7,439.4 177.1,428.0 201.9,423.0 226.4,422.5 251.2,423.0 275.3,428.0 299.8,439.4 324.7,451.2 349.1,474.3 374.0,548.4 398.4,618.5" fill="none" stroke="#5f6a44" stroke-width="1.9"/>
<circle cx="79.4" cy="548.4" r="3.0" fill="#5c6642"/>
<circle cx="103.6" cy="474.3" r="3.0" fill="#5c6642"/>
<circle cx="128.1" cy="451.2" r="3.0" fill="#5c6642"/>
<circle cx="152.7" cy="439.4" r="3.0" fill="#5c6642"/>
<circle cx="177.1" cy="428.0" r="3.0" fill="#5c6642"/>
<circle cx="201.9" cy="423.0" r="3.0" fill="#5c6642"/>
<circle cx="226.4" cy="422.5" r="3.0" fill="#5c6642"/>
<circle cx="251.2" cy="423.0" r="3.0" fill="#5c6642"/>
<circle cx="275.3" cy="428.0" r="3.0" fill="#5c6642"/>
<circle cx="299.8" cy="439.4" r="3.0" fill="#5c6642"/>
<circle cx="324.7" cy="451.2" r="3.0" fill="#5c6642"/>
<circle cx="349.1" cy="474.3" r="3.0" fill="#5c6642"/>
<circle cx="374.0" cy="548.4" r="3.0" fill="#5c6642"/>
</g>
<polyline points="55.0,662.0 79.4,636.0 103.6,595.7 128.1,546.6 152.7,479.1 177.1,404.8 201.9,382.4 226.4,387.9 251.2,382.4 275.3,404.8 299.8,479.1 324.7,546.6 349.1,595.7 374.0,636.0 398.4,662.0" fill="none" stroke="#ff6a5a" stroke-width="3.6" stroke-opacity="0.45"/>
<polyline points="55.0,662.0 79.4,636.0 103.6,595.7 128.1,546.6 152.7,479.1 177.1,404.8 201.9,382.4 226.4,387.9 251.2,382.4 275.3,404.8 299.8,479.1 324.7,546.6 349.1,595.7 374.0,636.0 398.4,662.0" fill="none" stroke="#f23c28" stroke-width="1.3"/>
<rect x="75.9" y="632.5" width="7" height="7" fill="#ff7060" fill-opacity="0.5"/>
<rect x="76.9" y="633.5" width="5" height="5" fill="#f04030"/>
<rect x="100.1" y="592.2" width="7" height="7" fill="#ff7060" fill-opacity="0.5"/>
<rect x="101.1" y="593.2" width="5" height="5" fill="#f04030"/>
<rect x="124.6" y="543.1" width="7" height="7" fill="#ff7060" fill-opacity="0.5"/>
<rect x="125.6" y="544.1" width="5" height="5" fill="#f04030"/>
<rect x="149.2" y="475.6" width="7" height="7" fill="#ff7060" fill-opacity="0.5"/>
<rect x="150.2" y="476.6" width="5" height="5" fill="#f04030"/>
<rect x="173.6" y="401.3" width="7" height="7" fill="#ff7060" fill-opacity="0.5"/>
<rect x="174.6" y="402.3" width="5" height="5" fill="#f04030"/>
<rect x="198.4" y="378.9" width="7" height="7" fill="#ff7060" fill-opacity="0.5"/>
<rect x="199.4" y="379.9" width="5" height="5" fill="#f04030"/>
<rect x="222.9" y="384.4" width="7" height="7" fill="#ff7060" fill-opacity="0.5"/>
<rect x="223.9" y="385.4" width="5" height="5" fill="#f04030"/>
<rect x="247.7" y="378.9" width="7" height="7" fill="#ff7060" fill-opacity="0.5"/>
<rect x="248.7" y="379.9" width="5" height="5" fill="#f04030"/>
<rect x="271.8" y="401.3" width="7" height="7" fill="#ff7060" fill-opacity="0.5"/>
<rect x="272.8" y="402.3" width="5" height="5" fill="#f04030"/>
<rect x="296.3" y="475.6" width="7" height="7" fill="#ff7060" fill-opacity="0.5"/>
<rect x="297.3" y="476.6" width="5" height="5" fill="#f04030"/>
<rect x="321.2" y="543.1" width="7" height="7" fill="#ff7060" fill-opacity="0.5"/>
<rect x="322.2" y="544.1" width="5" height="5" fill="#f04030"/>
<rect x="345.6" y="592.2" width="7" height="7" fill="#ff7060" fill-opacity="0.5"/>
<rect x="346.6" y="593.2" width="5" height="5" fill="#f04030"/>
<rect x="370.5" y="632.5" width="7" height="7" fill="#ff7060" fill-opacity="0.5"/>
<rect x="371.5" y="633.5" width="5" height="5" fill="#f04030"/>
<g clip-path="url(#cGreen)">
<polyline points="55.0,662.0 79.4,636.0 103.6,595.7 128.1,546.6 152.7,479.1 177.1,404.8 201.9,382.4 226.4,387.9 251.2,382.4 275.3,404.8 299.8,479.1 324.7,546.6 349.1,595.7 374.0,636.0 398.4,662.0" fill="none" stroke="#e4b090" stroke-width="3.4"/>
<polyline points="55.0,662.0 79.4,636.0 103.6,595.7 128.1,546.6 152.7,479.1 177.1,404.8 201.9,382.4 226.4,387.9 251.2,382.4 275.3,404.8 299.8,479.1 324.7,546.6 349.1,595.7 374.0,636.0 398.4,662.0" fill="none" stroke="#cc7e48" stroke-width="1.4"/>
<rect x="76.9" y="633.5" width="5" height="5" fill="#dc6030"/>
<rect x="101.1" y="593.2" width="5" height="5" fill="#dc6030"/>
<rect x="125.6" y="544.1" width="5" height="5" fill="#dc6030"/>
<rect x="150.2" y="476.6" width="5" height="5" fill="#dc6030"/>
<rect x="174.6" y="402.3" width="5" height="5" fill="#dc6030"/>
<rect x="199.4" y="379.9" width="5" height="5" fill="#dc6030"/>
<rect x="223.9" y="385.4" width="5" height="5" fill="#dc6030"/>
<rect x="248.7" y="379.9" width="5" height="5" fill="#dc6030"/>
<rect x="272.8" y="402.3" width="5" height="5" fill="#dc6030"/>
<rect x="297.3" y="476.6" width="5" height="5" fill="#dc6030"/>
<rect x="322.2" y="544.1" width="5" height="5" fill="#dc6030"/>
<rect x="346.6" y="593.2" width="5" height="5" fill="#dc6030"/>
<rect x="371.5" y="633.5" width="5" height="5" fill="#dc6030"/>
</g>
<polygon points="55.0,573.0 79.4,573.3 103.6,574.3 128.1,573.5 152.7,570.3 177.1,566.6 201.9,567.3 226.4,568.6 251.2,567.3 275.3,566.6 299.8,570.0 324.7,572.5 349.1,573.8 374.0,572.5 398.4,572.6 398.4,683.2 55.0,683.2" fill="url(#gB)"/>
<g clip-path="url(#cBlue)">
<polyline points="55.0,662.0 79.4,636.0 103.6,595.7" fill="none" stroke="#cc8ca0" stroke-width="2.6"/>
<polyline points="103.6,595.7 128.1,546.6" fill="none" stroke="#5e5ee6" stroke-width="2.6"/>
<polyline points="398.4,662.0 374.0,636.0 349.1,595.7" fill="none" stroke="#cc8ca0" stroke-width="2.6"/>
<polyline points="349.1,595.7 324.7,546.6" fill="none" stroke="#5e5ee6" stroke-width="2.6"/>
<rect x="76.4" y="633.0" width="6" height="6" fill="#dc8aa0"/>
<rect x="77.2" y="633.8" width="4.4" height="4.4" fill="#d6445e"/>
<rect x="100.6" y="592.7" width="6" height="6" fill="#dc8aa0"/>
<rect x="101.4" y="593.5" width="4.4" height="4.4" fill="#d6445e"/>
<rect x="346.1" y="592.7" width="6" height="6" fill="#dc8aa0"/>
<rect x="346.9" y="593.5" width="4.4" height="4.4" fill="#d6445e"/>
<rect x="371.0" y="633.0" width="6" height="6" fill="#dc8aa0"/>
<rect x="371.8" y="633.8" width="4.4" height="4.4" fill="#d6445e"/>
</g>
<polyline points="55.0,573.0 79.4,573.3 103.6,574.3 128.1,573.5 152.7,570.3 177.1,566.6 201.9,567.3 226.4,568.6 251.2,567.3 275.3,566.6 299.8,570.0 324.7,572.5 349.1,573.8 374.0,572.5 398.4,572.6" fill="none" stroke="#7070ec" stroke-width="5" stroke-opacity="0.6" stroke-linejoin="round"/>
<polyline points="55.0,573.0 79.4,573.3 103.6,574.3 128.1,573.5 152.7,570.3 177.1,566.6 201.9,567.3 226.4,568.6 251.2,567.3 275.3,566.6 299.8,570.0 324.7,572.5 349.1,573.8 374.0,572.5 398.4,572.6" fill="none" stroke="#3636e2" stroke-width="2" stroke-linejoin="round"/>
<path d="M79.4,569.5 l3.6,5.8 l-7.2,0 z" fill="#3232ea"/>
<path d="M103.6,570.5 l3.6,5.8 l-7.2,0 z" fill="#3232ea"/>
<path d="M128.1,569.7 l3.6,5.8 l-7.2,0 z" fill="#3232ea"/>
<path d="M152.7,566.5 l3.6,5.8 l-7.2,0 z" fill="#3232ea"/>
<path d="M177.1,562.8 l3.6,5.8 l-7.2,0 z" fill="#3232ea"/>
<path d="M201.9,563.5 l3.6,5.8 l-7.2,0 z" fill="#3232ea"/>
<path d="M226.4,564.8 l3.6,5.8 l-7.2,0 z" fill="#3232ea"/>
<path d="M251.2,563.5 l3.6,5.8 l-7.2,0 z" fill="#3232ea"/>
<path d="M275.3,562.8 l3.6,5.8 l-7.2,0 z" fill="#3232ea"/>
<path d="M299.8,566.2 l3.6,5.8 l-7.2,0 z" fill="#3232ea"/>
<path d="M324.7,568.7 l3.6,5.8 l-7.2,0 z" fill="#3232ea"/>
<path d="M349.1,570.0 l3.6,5.8 l-7.2,0 z" fill="#3232ea"/>
<path d="M374.0,568.7 l3.6,5.8 l-7.2,0 z" fill="#3232ea"/>
</g>
<line x1="71.80" y1="295.00" x2="381.20" y2="295.00" stroke="#111" stroke-width="1.30"/>
<line x1="381.20" y1="295.00" x2="381.20" y2="681.70" stroke="#111" stroke-width="1.30"/>
<line x1="71.80" y1="294.40" x2="71.80" y2="685.20" stroke="#111" stroke-width="1.30"/>
<line x1="64.30" y1="681.20" x2="381.20" y2="681.20" stroke="#111" stroke-width="1.30"/>
<line x1="64.30" y1="681.20" x2="71.80" y2="681.20" stroke="#111" stroke-width="1.20"/>
<text x="57.20" y="685.30" font-size="11.60" font-weight="bold" text-anchor="end" fill="#111" font-family="Liberation Sans" textLength="24.30" lengthAdjust="spacingAndGlyphs">0.00</text>
<line x1="68.00" y1="659.75" x2="71.80" y2="659.75" stroke="#111" stroke-width="1.20"/>
<line x1="64.30" y1="638.30" x2="71.80" y2="638.30" stroke="#111" stroke-width="1.20"/>
<text x="57.20" y="642.40" font-size="11.60" font-weight="bold" text-anchor="end" fill="#111" font-family="Liberation Sans" textLength="24.30" lengthAdjust="spacingAndGlyphs">0.01</text>
<line x1="68.00" y1="616.85" x2="71.80" y2="616.85" stroke="#111" stroke-width="1.20"/>
<line x1="64.30" y1="595.40" x2="71.80" y2="595.40" stroke="#111" stroke-width="1.20"/>
<text x="57.20" y="599.50" font-size="11.60" font-weight="bold" text-anchor="end" fill="#111" font-family="Liberation Sans" textLength="24.30" lengthAdjust="spacingAndGlyphs">0.02</text>
<line x1="68.00" y1="573.95" x2="71.80" y2="573.95" stroke="#111" stroke-width="1.20"/>
<line x1="64.30" y1="552.50" x2="71.80" y2="552.50" stroke="#111" stroke-width="1.20"/>
<text x="57.20" y="556.60" font-size="11.60" font-weight="bold" text-anchor="end" fill="#111" font-family="Liberation Sans" textLength="24.30" lengthAdjust="spacingAndGlyphs">0.03</text>
<line x1="68.00" y1="531.05" x2="71.80" y2="531.05" stroke="#111" stroke-width="1.20"/>
<line x1="64.30" y1="509.60" x2="71.80" y2="509.60" stroke="#111" stroke-width="1.20"/>
<text x="57.20" y="513.70" font-size="11.60" font-weight="bold" text-anchor="end" fill="#111" font-family="Liberation Sans" textLength="24.30" lengthAdjust="spacingAndGlyphs">0.04</text>
<line x1="68.00" y1="488.15" x2="71.80" y2="488.15" stroke="#111" stroke-width="1.20"/>
<line x1="64.30" y1="466.70" x2="71.80" y2="466.70" stroke="#111" stroke-width="1.20"/>
<text x="57.20" y="470.80" font-size="11.60" font-weight="bold" text-anchor="end" fill="#111" font-family="Liberation Sans" textLength="24.30" lengthAdjust="spacingAndGlyphs">0.05</text>
<line x1="68.00" y1="445.25" x2="71.80" y2="445.25" stroke="#111" stroke-width="1.20"/>
<line x1="64.30" y1="423.80" x2="71.80" y2="423.80" stroke="#111" stroke-width="1.20"/>
<text x="57.20" y="427.90" font-size="11.60" font-weight="bold" text-anchor="end" fill="#111" font-family="Liberation Sans" textLength="24.30" lengthAdjust="spacingAndGlyphs">0.06</text>
<line x1="68.00" y1="402.35" x2="71.80" y2="402.35" stroke="#111" stroke-width="1.20"/>
<line x1="64.30" y1="380.90" x2="71.80" y2="380.90" stroke="#111" stroke-width="1.20"/>
<text x="57.20" y="385.00" font-size="11.60" font-weight="bold" text-anchor="end" fill="#111" font-family="Liberation Sans" textLength="24.30" lengthAdjust="spacingAndGlyphs">0.07</text>
<line x1="68.00" y1="359.45" x2="71.80" y2="359.45" stroke="#111" stroke-width="1.20"/>
<line x1="64.30" y1="338.00" x2="71.80" y2="338.00" stroke="#111" stroke-width="1.20"/>
<text x="57.20" y="342.10" font-size="11.60" font-weight="bold" text-anchor="end" fill="#111" font-family="Liberation Sans" textLength="24.30" lengthAdjust="spacingAndGlyphs">0.08</text>
<line x1="68.00" y1="316.55" x2="71.80" y2="316.55" stroke="#111" stroke-width="1.20"/>
<line x1="64.30" y1="295.10" x2="71.80" y2="295.10" stroke="#111" stroke-width="1.20"/>
<text x="57.20" y="299.20" font-size="11.60" font-weight="bold" text-anchor="end" fill="#111" font-family="Liberation Sans" textLength="24.30" lengthAdjust="spacingAndGlyphs">0.09</text>
<line x1="122.90" y1="681.20" x2="122.90" y2="688.20" stroke="#111" stroke-width="1.20"/>
<text x="122.90" y="704.20" font-size="11.60" font-weight="bold" text-anchor="middle" fill="#111" font-family="Liberation Sans">−20</text>
<line x1="226.15" y1="681.20" x2="226.15" y2="688.20" stroke="#111" stroke-width="1.20"/>
<text x="226.15" y="704.20" font-size="11.60" font-weight="bold" text-anchor="middle" fill="#111" font-family="Liberation Sans">0</text>
<line x1="329.40" y1="681.20" x2="329.40" y2="688.20" stroke="#111" stroke-width="1.20"/>
<text x="329.40" y="704.20" font-size="11.60" font-weight="bold" text-anchor="middle" fill="#111" font-family="Liberation Sans">20</text>
<line x1="71.28" y1="681.20" x2="71.28" y2="684.90" stroke="#111" stroke-width="1.20"/>
<line x1="174.53" y1="681.20" x2="174.53" y2="684.90" stroke="#111" stroke-width="1.20"/>
<line x1="277.77" y1="681.20" x2="277.77" y2="684.90" stroke="#111" stroke-width="1.20"/>
<line x1="381.02" y1="681.20" x2="381.02" y2="684.90" stroke="#111" stroke-width="1.20"/>
<text x="226.10" y="717.30" font-size="11.00" font-weight="bold" text-anchor="middle" fill="#111" font-family="Liberation Sans" textLength="87.10" lengthAdjust="spacingAndGlyphs">Position (mm)</text>
<text x="0" y="0" font-size="12" font-weight="bold" fill="#111" font-family="Liberation Sans" text-anchor="middle" transform="translate(13.4 489.6) rotate(-90)" textLength="115" lengthAdjust="spacingAndGlyphs">Irradiance (W/mm<tspan dy="-4" font-size="7.5">2</tspan><tspan dy="4">)</tspan></text>
<rect x="85.6" y="304.9" width="251.2" height="47" fill="#fff" stroke="#111" stroke-width="1.6"/>
<defs><linearGradient id="lgR" x1="0" y1="0" x2="0" y2="1"><stop offset="0" stop-color="#ff8c8c"/><stop offset="0.35" stop-color="#ffd0bc"/><stop offset="1" stop-color="#fff4f0"/></linearGradient>
<linearGradient id="lgG" x1="0" y1="0" x2="0" y2="1"><stop offset="0" stop-color="#8ee88e"/><stop offset="0.45" stop-color="#d0f4d0"/><stop offset="1" stop-color="#f4f8f4"/></linearGradient>
<linearGradient id="lgB" x1="0" y1="0" x2="0" y2="1"><stop offset="0" stop-color="#7878e8"/><stop offset="0.45" stop-color="#c0c0f2"/><stop offset="1" stop-color="#f8f8ff"/></linearGradient></defs>
<rect x="87.6" y="306.5" width="27" height="12.6" fill="url(#lgR)" stroke="#c8c8c8" stroke-width="0.8"/>
<text x="120.00" y="316.70" font-size="12.00" font-weight="normal" text-anchor="start" fill="#1a1a1a" font-family="Liberation Sans" textLength="103.40" lengthAdjust="spacingAndGlyphs">Elliepsoidal mirror</text>
<rect x="87.6" y="322.0" width="27" height="12.6" fill="url(#lgG)" stroke="#c8c8c8" stroke-width="0.8"/>
<text x="120.00" y="332.20" font-size="12.00" font-weight="normal" text-anchor="start" fill="#1a1a1a" font-family="Liberation Sans" textLength="213.50" lengthAdjust="spacingAndGlyphs">Freeform surface before optimization</text>
<rect x="87.6" y="337.5" width="27" height="12.6" fill="url(#lgB)" stroke="#c8c8c8" stroke-width="0.8"/>
<text x="120.00" y="347.70" font-size="12.00" font-weight="normal" text-anchor="start" fill="#1a1a1a" font-family="Liberation Sans" textLength="202.00" lengthAdjust="spacingAndGlyphs">Freeform surface after optimization</text>
<line x1="286.30" y1="404.00" x2="425.00" y2="404.00" stroke="#111" stroke-width="1.10"/>
<path d="M433,404.2 L420.5,401.2 L420.5,407.2 Z" fill="#111"/>
<line x1="355.80" y1="483.20" x2="422.00" y2="483.20" stroke="#e82020" stroke-width="1.20"/>
<path d="M431.5,483.4 L419.5,480.4 L419.5,486.4 Z" fill="#e82020"/>
<line x1="383.30" y1="573.80" x2="422.00" y2="573.80" stroke="#2a2ae0" stroke-width="1.20"/>
<path d="M431.5,573.8 L419.5,570.8 L419.5,576.8 Z" fill="#2a2ae0"/>
<rect x="439.5" y="293.7" width="307.3" height="127.8" fill="#fff" stroke="#1e1e24" stroke-width="1.3"/>
<polygon points="469.5,386.3 567.0,363.1 567.0,295.6 469.5,318.8" fill="#fff" stroke="none"/>
<polygon points="567.0,363.1 665.7,385.4 665.7,317.9 567.0,295.6" fill="#fff" stroke="none"/>
<polygon points="469.5,376.7 567.0,353.5 567.0,343.8 469.5,367.0" fill="#e2e2f7"/>
<polygon points="567.0,353.5 665.7,375.8 665.7,366.1 567.0,343.8" fill="#e2e2f7"/>
<polygon points="469.5,357.4 567.0,334.2 567.0,324.5 469.5,347.7" fill="#e2e2f7"/>
<polygon points="567.0,334.2 665.7,356.4 665.7,346.8 567.0,324.5" fill="#e2e2f7"/>
<polygon points="469.5,338.1 567.0,314.9 567.0,305.2 469.5,328.4" fill="#e2e2f7"/>
<polygon points="567.0,314.9 665.7,337.1 665.7,327.5 567.0,305.2" fill="#e2e2f7"/>
<polyline points="469.5,318.8 567.0,295.6 665.7,317.9" fill="none" stroke="#d8d8e4" stroke-width="0.7"/>
<line x1="567.00" y1="363.10" x2="567.00" y2="295.60" stroke="#d0d0dc" stroke-width="0.70"/>
<line x1="469.50" y1="386.30" x2="469.50" y2="318.80" stroke="#9a9aa4" stroke-width="0.80"/>
<line x1="665.70" y1="385.40" x2="665.70" y2="317.90" stroke="#e0e0ea" stroke-width="0.60"/>
<polygon points="469.5,386.3 568.2,408.6 665.7,385.4 567.0,363.1" fill="#0000f2"/>
<circle r="27.40" fill="#000ced" transform="matrix(1.2338 0.2788 1.2188 -0.2900 567.60 384.71)"/>
<circle r="26.50" fill="#000ced" transform="matrix(1.2338 0.2788 1.2188 -0.2900 567.60 383.58)"/>
<circle r="25.89" fill="#0028ff" transform="matrix(1.2338 0.2788 1.2188 -0.2900 567.60 382.44)"/>
<circle r="25.89" fill="none" stroke="#000" stroke-width="0.5" stroke-opacity="0.10" vector-effect="non-scaling-stroke" transform="matrix(1.2338 0.2788 1.2188 -0.2900 567.60 382.44)"/>
<circle r="25.33" fill="#0028ff" transform="matrix(1.2338 0.2788 1.2188 -0.2900 567.60 381.31)"/>
<circle r="24.76" fill="#0028ff" transform="matrix(1.2338 0.2788 1.2188 -0.2900 567.60 380.17)"/>
<circle r="24.13" fill="#0045ff" transform="matrix(1.2338 0.2788 1.2188 -0.2900 567.60 379.04)"/>
<circle r="24.13" fill="none" stroke="#000" stroke-width="0.5" stroke-opacity="0.10" vector-effect="non-scaling-stroke" transform="matrix(1.2338 0.2788 1.2188 -0.2900 567.60 379.04)"/>
<circle r="23.49" fill="#0045ff" transform="matrix(1.2338 0.2788 1.2188 -0.2900 567.60 377.90)"/>
<circle r="22.85" fill="#0045ff" transform="matrix(1.2338 0.2788 1.2188 -0.2900 567.60 376.77)"/>
<circle r="22.23" fill="#007aff" transform="matrix(1.2338 0.2788 1.2188 -0.2900 567.60 375.63)"/>
<circle r="22.23" fill="none" stroke="#000" stroke-width="0.5" stroke-opacity="0.10" vector-effect="non-scaling-stroke" transform="matrix(1.2338 0.2788 1.2188 -0.2900 567.60 375.63)"/>
<circle r="21.65" fill="#007aff" transform="matrix(1.2338 0.2788 1.2188 -0.2900 567.60 374.50)"/>
<circle r="21.11" fill="#007aff" transform="matrix(1.2338 0.2788 1.2188 -0.2900 567.60 373.36)"/>
<circle r="20.62" fill="#00b3ff" transform="matrix(1.2338 0.2788 1.2188 -0.2900 567.60 372.22)"/>
<circle r="20.62" fill="none" stroke="#000" stroke-width="0.5" stroke-opacity="0.10" vector-effect="non-scaling-stroke" transform="matrix(1.2338 0.2788 1.2188 -0.2900 567.60 372.22)"/>
<circle r="20.17" fill="#00b3ff" transform="matrix(1.2338 0.2788 1.2188 -0.2900 567.60 371.09)"/>
<circle r="19.75" fill="#00b3ff" transform="matrix(1.2338 0.2788 1.2188 -0.2900 567.60 369.95)"/>
<circle r="19.34" fill="#00f0ff" transform="matrix(1.2338 0.2788 1.2188 -0.2900 567.60 368.82)"/>
<circle r="19.34" fill="none" stroke="#ffffff" stroke-width="0.9" stroke-opacity="0.55" stroke-dasharray="2,1" vector-effect="non-scaling-stroke" transform="matrix(1.2338 0.2788 1.2188 -0.2900 567.60 368.82)"/>
<circle r="18.95" fill="#00f0ff" transform="matrix(1.2338 0.2788 1.2188 -0.2900 567.60 367.68)"/>
<circle r="18.56" fill="#00f0ff" transform="matrix(1.2338 0.2788 1.2188 -0.2900 567.60 366.55)"/>
<circle r="18.18" fill="#00ffbb" transform="matrix(1.2338 0.2788 1.2188 -0.2900 567.60 365.41)"/>
<circle r="18.18" fill="none" stroke="#000" stroke-width="0.5" stroke-opacity="0.10" vector-effect="non-scaling-stroke" transform="matrix(1.2338 0.2788 1.2188 -0.2900 567.60 365.41)"/>
<circle r="17.80" fill="#00ffbb" transform="matrix(1.2338 0.2788 1.2188 -0.2900 567.60 364.28)"/>
<circle r="17.43" fill="#00ffbb" transform="matrix(1.2338 0.2788 1.2188 -0.2900 567.60 363.14)"/>
<circle r="17.07" fill="#00ff6e" transform="matrix(1.2338 0.2788 1.2188 -0.2900 567.60 362.00)"/>
<circle r="17.07" fill="none" stroke="#000" stroke-width="0.5" stroke-opacity="0.10" vector-effect="non-scaling-stroke" transform="matrix(1.2338 0.2788 1.2188 -0.2900 567.60 362.00)"/>
<circle r="16.72" fill="#00ff6e" transform="matrix(1.2338 0.2788 1.2188 -0.2900 567.60 360.87)"/>
<circle r="16.37" fill="#00ff6e" transform="matrix(1.2338 0.2788 1.2188 -0.2900 567.60 359.73)"/>
<circle r="16.02" fill="#00ff33" transform="matrix(1.2338 0.2788 1.2188 -0.2900 567.60 358.60)"/>
<circle r="16.02" fill="none" stroke="#000" stroke-width="0.5" stroke-opacity="0.10" vector-effect="non-scaling-stroke" transform="matrix(1.2338 0.2788 1.2188 -0.2900 567.60 358.60)"/>
<circle r="15.68" fill="#00ff33" transform="matrix(1.2338 0.2788 1.2188 -0.2900 567.60 357.46)"/>
<circle r="15.35" fill="#00ff33" transform="matrix(1.2338 0.2788 1.2188 -0.2900 567.60 356.33)"/>
<circle r="15.02" fill="#00ff09" transform="matrix(1.2338 0.2788 1.2188 -0.2900 567.60 355.19)"/>
<circle r="15.02" fill="none" stroke="#000" stroke-width="0.5" stroke-opacity="0.10" vector-effect="non-scaling-stroke" transform="matrix(1.2338 0.2788 1.2188 -0.2900 567.60 355.19)"/>
<circle r="14.69" fill="#00ff09" transform="matrix(1.2338 0.2788 1.2188 -0.2900 567.60 354.06)"/>
<circle r="14.37" fill="#00ff09" transform="matrix(1.2338 0.2788 1.2188 -0.2900 567.60 352.92)"/>
<circle r="14.05" fill="#0fff00" transform="matrix(1.2338 0.2788 1.2188 -0.2900 567.60 351.79)"/>
<circle r="14.05" fill="none" stroke="#000" stroke-width="0.5" stroke-opacity="0.10" vector-effect="non-scaling-stroke" transform="matrix(1.2338 0.2788 1.2188 -0.2900 567.60 351.79)"/>
<circle r="13.73" fill="#0fff00" transform="matrix(1.2338 0.2788 1.2188 -0.2900 567.60 350.65)"/>
<circle r="13.43" fill="#0fff00" transform="matrix(1.2338 0.2788 1.2188 -0.2900 567.60 349.51)"/>
<circle r="13.14" fill="#27ff00" transform="matrix(1.2338 0.2788 1.2188 -0.2900 567.60 348.38)"/>
<circle r="13.14" fill="none" stroke="#000" stroke-width="0.5" stroke-opacity="0.10" vector-effect="non-scaling-stroke" transform="matrix(1.2338 0.2788 1.2188 -0.2900 567.60 348.38)"/>
<circle r="12.85" fill="#27ff00" transform="matrix(1.2338 0.2788 1.2188 -0.2900 567.60 347.24)"/>
<circle r="12.56" fill="#27ff00" transform="matrix(1.2338 0.2788 1.2188 -0.2900 567.60 346.11)"/>
<circle r="12.27" fill="#56ff00" transform="matrix(1.2338 0.2788 1.2188 -0.2900 567.60 344.97)"/>
<circle r="12.27" fill="none" stroke="#000" stroke-width="0.5" stroke-opacity="0.10" vector-effect="non-scaling-stroke" transform="matrix(1.2338 0.2788 1.2188 -0.2900 567.60 344.97)"/>
<circle r="11.98" fill="#56ff00" transform="matrix(1.2338 0.2788 1.2188 -0.2900 567.60 343.84)"/>
<circle r="11.69" fill="#56ff00" transform="matrix(1.2338 0.2788 1.2188 -0.2900 567.60 342.70)"/>
<circle r="11.39" fill="#9bff00" transform="matrix(1.2338 0.2788 1.2188 -0.2900 567.60 341.57)"/>
<circle r="11.39" fill="none" stroke="#000" stroke-width="0.5" stroke-opacity="0.10" vector-effect="non-scaling-stroke" transform="matrix(1.2338 0.2788 1.2188 -0.2900 567.60 341.57)"/>
<circle r="11.08" fill="#9bff00" transform="matrix(1.2338 0.2788 1.2188 -0.2900 567.60 340.43)"/>
<circle r="10.75" fill="#9bff00" transform="matrix(1.2338 0.2788 1.2188 -0.2900 567.60 339.30)"/>
<circle r="10.41" fill="#deff00" transform="matrix(1.2338 0.2788 1.2188 -0.2900 567.60 338.16)"/>
<circle r="10.41" fill="none" stroke="#000" stroke-width="0.5" stroke-opacity="0.10" vector-effect="non-scaling-stroke" transform="matrix(1.2338 0.2788 1.2188 -0.2900 567.60 338.16)"/>
<circle r="10.08" fill="#deff00" transform="matrix(1.2338 0.2788 1.2188 -0.2900 567.60 337.02)"/>
<circle r="9.76" fill="#deff00" transform="matrix(1.2338 0.2788 1.2188 -0.2900 567.60 335.89)"/>
<circle r="9.48" fill="#ffe400" transform="matrix(1.2338 0.2788 1.2188 -0.2900 567.60 334.75)"/>
<circle r="9.48" fill="none" stroke="#ffffff" stroke-width="0.9" stroke-opacity="0.85" stroke-dasharray="2,1" vector-effect="non-scaling-stroke" transform="matrix(1.2338 0.2788 1.2188 -0.2900 567.60 334.75)"/>
<circle r="9.23" fill="#ffe400" transform="matrix(1.2338 0.2788 1.2188 -0.2900 567.60 333.62)"/>
<circle r="8.99" fill="#ffe400" transform="matrix(1.2338 0.2788 1.2188 -0.2900 567.60 332.48)"/>
<circle r="8.76" fill="#ffaf00" transform="matrix(1.2338 0.2788 1.2188 -0.2900 567.60 331.35)"/>
<circle r="8.76" fill="none" stroke="#000" stroke-width="0.5" stroke-opacity="0.10" vector-effect="non-scaling-stroke" transform="matrix(1.2338 0.2788 1.2188 -0.2900 567.60 331.35)"/>
<circle r="8.51" fill="#ffaf00" transform="matrix(1.2338 0.2788 1.2188 -0.2900 567.60 330.21)"/>
<circle r="8.25" fill="#ffaf00" transform="matrix(1.2338 0.2788 1.2188 -0.2900 567.60 329.08)"/>
<circle r="7.95" fill="#ff7900" transform="matrix(1.2338 0.2788 1.2188 -0.2900 567.60 327.94)"/>
<circle r="7.95" fill="none" stroke="#000" stroke-width="0.5" stroke-opacity="0.10" vector-effect="non-scaling-stroke" transform="matrix(1.2338 0.2788 1.2188 -0.2900 567.60 327.94)"/>
<circle r="7.65" fill="#ff7900" transform="matrix(1.2338 0.2788 1.2188 -0.2900 567.60 326.80)"/>
<circle r="7.34" fill="#ff7900" transform="matrix(1.2338 0.2788 1.2188 -0.2900 567.60 325.67)"/>
<circle r="7.00" fill="#ff4800" transform="matrix(1.2338 0.2788 1.2188 -0.2900 567.60 324.53)"/>
<circle r="7.00" fill="none" stroke="#000" stroke-width="0.5" stroke-opacity="0.10" vector-effect="non-scaling-stroke" transform="matrix(1.2338 0.2788 1.2188 -0.2900 567.60 324.53)"/>
<circle r="6.63" fill="#ff4800" transform="matrix(1.2338 0.2788 1.2188 -0.2900 567.60 323.40)"/>
<circle r="6.19" fill="#ff4800" transform="matrix(1.2338 0.2788 1.2188 -0.2900 567.60 322.26)"/>
<circle r="5.62" fill="#ff1e00" transform="matrix(1.2338 0.2788 1.2188 -0.2900 567.60 321.13)"/>
<circle r="5.62" fill="none" stroke="#000" stroke-width="0.5" stroke-opacity="0.10" vector-effect="non-scaling-stroke" transform="matrix(1.2338 0.2788 1.2188 -0.2900 567.60 321.13)"/>
<circle r="5.00" fill="#ff1e00" transform="matrix(1.2338 0.2788 1.2188 -0.2900 567.60 319.99)"/>
<circle r="4.21" fill="#ff1e00" transform="matrix(1.2338 0.2788 1.2188 -0.2900 567.60 318.86)"/>
<text x="467.80" y="328.80" font-size="6.60" font-weight="normal" text-anchor="end" fill="#333" font-family="Liberation Sans" textLength="13.70" lengthAdjust="spacingAndGlyphs">0.06</text>
<text x="467.80" y="338.30" font-size="6.60" font-weight="normal" text-anchor="end" fill="#333" font-family="Liberation Sans" textLength="13.70" lengthAdjust="spacingAndGlyphs">0.05</text>
<text x="467.80" y="348.10" font-size="6.60" font-weight="normal" text-anchor="end" fill="#333" font-family="Liberation Sans" textLength="13.70" lengthAdjust="spacingAndGlyphs">0.04</text>
<text x="467.80" y="357.70" font-size="6.60" font-weight="normal" text-anchor="end" fill="#333" font-family="Liberation Sans" textLength="13.70" lengthAdjust="spacingAndGlyphs">0.03</text>
<text x="467.80" y="367.20" font-size="6.60" font-weight="normal" text-anchor="end" fill="#333" font-family="Liberation Sans" textLength="13.70" lengthAdjust="spacingAndGlyphs">0.02</text>
<text x="467.80" y="376.90" font-size="6.60" font-weight="normal" text-anchor="end" fill="#333" font-family="Liberation Sans" textLength="13.70" lengthAdjust="spacingAndGlyphs">0.01</text>
<text x="460.95" y="386.70" font-size="6.60" font-weight="normal" text-anchor="middle" fill="#333" font-family="Liberation Sans" textLength="3.80" lengthAdjust="spacingAndGlyphs">0</text>
<text x="0" y="0" font-family="Liberation Serif" font-size="7.6" fill="#333" text-anchor="middle" transform="translate(449.3 351.5) rotate(-90)" textLength="55.5" lengthAdjust="spacingAndGlyphs">Irradiance,<tspan font-style="italic">W / mm</tspan><tspan dy="-2.5" font-size="5">2</tspan></text>
<text x="479.50" y="395.80" font-size="6.80" font-weight="normal" text-anchor="middle" fill="#333" font-family="Liberation Sans" textLength="12.00" lengthAdjust="spacingAndGlyphs">-40</text>
<text x="499.40" y="400.10" font-size="6.80" font-weight="normal" text-anchor="middle" fill="#333" font-family="Liberation Sans" textLength="12.00" lengthAdjust="spacingAndGlyphs">-20</text>
<text x="518.70" y="404.60" font-size="6.80" font-weight="normal" text-anchor="middle" fill="#333" font-family="Liberation Sans" textLength="4.00" lengthAdjust="spacingAndGlyphs">0</text>
<text x="538.00" y="409.40" font-size="6.80" font-weight="normal" text-anchor="middle" fill="#333" font-family="Liberation Sans" textLength="8.00" lengthAdjust="spacingAndGlyphs">20</text>
<text x="558.40" y="413.30" font-size="6.80" font-weight="normal" text-anchor="middle" fill="#333" font-family="Liberation Sans" textLength="8.00" lengthAdjust="spacingAndGlyphs">40</text>
<text x="578.90" y="413.30" font-size="6.80" font-weight="normal" text-anchor="middle" fill="#333" font-family="Liberation Sans" textLength="12.00" lengthAdjust="spacingAndGlyphs">-40</text>
<text x="598.00" y="409.10" font-size="6.80" font-weight="normal" text-anchor="middle" fill="#333" font-family="Liberation Sans" textLength="12.00" lengthAdjust="spacingAndGlyphs">-20</text>
<text x="617.20" y="404.20" font-size="6.80" font-weight="normal" text-anchor="middle" fill="#333" font-family="Liberation Sans" textLength="4.00" lengthAdjust="spacingAndGlyphs">0</text>
<text x="636.40" y="399.40" font-size="6.80" font-weight="normal" text-anchor="middle" fill="#333" font-family="Liberation Sans" textLength="8.00" lengthAdjust="spacingAndGlyphs">20</text>
<text x="656.30" y="395.20" font-size="6.80" font-weight="normal" text-anchor="middle" fill="#333" font-family="Liberation Sans" textLength="8.00" lengthAdjust="spacingAndGlyphs">40</text>
<text x="0" y="0" font-family="Liberation Serif" font-style="italic" font-weight="bold" font-size="8" fill="#333" text-anchor="middle" transform="translate(514.8 413.5) rotate(14.0)" textLength="26.5" lengthAdjust="spacingAndGlyphs">X / mm</text>
<text x="0" y="0" font-family="Liberation Serif" font-weight="bold" font-size="8" fill="#333" text-anchor="middle" transform="translate(624.0 413.3) rotate(-12.0)" textLength="25.0" lengthAdjust="spacingAndGlyphs">Y <tspan font-style="italic">/ mm</tspan></text>
<rect x="685.8" y="389.79" width="12.5" height="4.41" fill="#000fed"/>
<rect x="685.8" y="385.69" width="4.2" height="4.41" fill="#002fff"/>
<rect x="685.8" y="381.58" width="4.2" height="4.41" fill="#005cff"/>
<rect x="685.8" y="377.48" width="8.0" height="4.41" fill="#009cff"/>
<rect x="685.8" y="373.37" width="4.2" height="4.41" fill="#00e4ff"/>
<rect x="685.8" y="369.26" width="8.0" height="4.41" fill="#00ffbe"/>
<rect x="685.8" y="365.16" width="4.2" height="4.41" fill="#00ff65"/>
<rect x="685.8" y="361.05" width="8.0" height="4.41" fill="#00ff20"/>
<rect x="685.8" y="356.95" width="4.2" height="4.41" fill="#03ff00"/>
<rect x="685.8" y="352.84" width="8.0" height="4.41" fill="#1fff00"/>
<rect x="685.8" y="348.74" width="4.2" height="4.41" fill="#4bff00"/>
<rect x="685.8" y="344.63" width="6.1" height="4.41" fill="#9dff00"/>
<rect x="685.8" y="340.52" width="8.0" height="4.41" fill="#ebff00"/>
<rect x="685.8" y="336.42" width="6.1" height="4.41" fill="#ffd000"/>
<rect x="685.8" y="332.31" width="8.0" height="4.41" fill="#ff9100"/>
<rect x="685.8" y="328.21" width="8.0" height="4.41" fill="#ff5400"/>
<rect x="685.8" y="324.10" width="8.0" height="4.41" fill="#ff2100"/>
<line x1="690.20" y1="332.31" x2="690.20" y2="385.69" stroke="#444" stroke-width="0.50"/>
<line x1="699.70" y1="324.10" x2="699.70" y2="393.90" stroke="#8a7a7a" stroke-width="0.60"/>
<text x="701.20" y="326.10" font-size="5.60" font-weight="normal" text-anchor="start" fill="#333" font-family="Liberation Sans" textLength="22.50" lengthAdjust="spacingAndGlyphs">0.0698</text>
<text x="701.20" y="336.07" font-size="5.60" font-weight="normal" text-anchor="start" fill="#333" font-family="Liberation Sans" textLength="22.50" lengthAdjust="spacingAndGlyphs">0.0598</text>
<text x="701.20" y="346.04" font-size="5.60" font-weight="normal" text-anchor="start" fill="#333" font-family="Liberation Sans" textLength="22.50" lengthAdjust="spacingAndGlyphs">0.0498</text>
<text x="701.20" y="356.01" font-size="5.60" font-weight="normal" text-anchor="start" fill="#333" font-family="Liberation Sans" textLength="22.50" lengthAdjust="spacingAndGlyphs">0.0399</text>
<text x="701.20" y="365.99" font-size="5.60" font-weight="normal" text-anchor="start" fill="#333" font-family="Liberation Sans" textLength="22.50" lengthAdjust="spacingAndGlyphs">0.0299</text>
<text x="701.20" y="375.96" font-size="5.60" font-weight="normal" text-anchor="start" fill="#333" font-family="Liberation Sans" textLength="22.50" lengthAdjust="spacingAndGlyphs">0.0199</text>
<text x="701.20" y="385.93" font-size="5.60" font-weight="normal" text-anchor="start" fill="#333" font-family="Liberation Sans" textLength="26.25" lengthAdjust="spacingAndGlyphs">0.00997</text>
<text x="701.20" y="395.90" font-size="5.60" font-weight="normal" text-anchor="start" fill="#333" font-family="Liberation Sans" textLength="3.75" lengthAdjust="spacingAndGlyphs">0</text>
<text x="670.7" y="315.8" font-family="Liberation Serif" font-weight="bold" font-size="7.6" fill="#333" textLength="71.8" lengthAdjust="spacingAndGlyphs">Irradiance,<tspan font-style="italic">W / mm</tspan><tspan dy="-2.5" font-size="5">2</tspan></text>
<rect x="439.5" y="422.2" width="307.3" height="2.2" fill="#8c8c8c"/>
<rect x="439.3" y="424.6" width="307.1" height="126.7" fill="#fff" stroke="#1e1e24" stroke-width="1.3"/>
<polygon points="470.4,517.6 569.4,490.4 569.4,429.1 470.4,456.3" fill="#fff" stroke="none"/>
<polygon points="569.4,490.4 677.0,514.8 677.0,453.5 569.4,429.1" fill="#fff" stroke="none"/>
<polygon points="470.4,507.6 569.4,480.4 569.4,470.4 470.4,497.6" fill="#e2e2f7"/>
<polygon points="569.4,480.4 677.0,504.8 677.0,494.8 569.4,470.4" fill="#e2e2f7"/>
<polygon points="470.4,487.6 569.4,460.4 569.4,450.4 470.4,477.6" fill="#e2e2f7"/>
<polygon points="569.4,460.4 677.0,484.8 677.0,474.8 569.4,450.4" fill="#e2e2f7"/>
<polygon points="470.4,467.6 569.4,440.4 569.4,430.4 470.4,457.6" fill="#e2e2f7"/>
<polygon points="569.4,440.4 677.0,464.8 677.0,454.8 569.4,430.4" fill="#e2e2f7"/>
<polyline points="470.4,456.3 569.4,429.1 677.0,453.5" fill="none" stroke="#d8d8e4" stroke-width="0.7"/>
<line x1="569.40" y1="490.40" x2="569.40" y2="429.10" stroke="#d0d0dc" stroke-width="0.70"/>
<line x1="470.40" y1="517.60" x2="470.40" y2="456.30" stroke="#9a9aa4" stroke-width="0.80"/>
<line x1="677.00" y1="514.80" x2="677.00" y2="453.50" stroke="#e0e0ea" stroke-width="0.60"/>
<polygon points="470.4,517.6 578.0,542.0 677.0,514.8 569.4,490.4" fill="#0000f2"/>
<circle r="28.74" fill="#000ced" transform="matrix(1.3450 0.3050 1.2375 -0.3400 573.70 515.19)"/>
<circle r="28.16" fill="#000ced" transform="matrix(1.3450 0.3050 1.2375 -0.3400 573.70 514.19)"/>
<circle r="27.86" fill="#0028ff" transform="matrix(1.3450 0.3050 1.2375 -0.3400 573.70 513.18)"/>
<circle r="27.86" fill="none" stroke="#000" stroke-width="0.5" stroke-opacity="0.10" vector-effect="non-scaling-stroke" transform="matrix(1.3450 0.3050 1.2375 -0.3400 573.70 513.18)"/>
<circle r="27.62" fill="#0028ff" transform="matrix(1.3450 0.3050 1.2375 -0.3400 573.70 512.17)"/>
<circle r="27.40" fill="#0028ff" transform="matrix(1.3450 0.3050 1.2375 -0.3400 573.70 511.17)"/>
<circle r="27.20" fill="#0045ff" transform="matrix(1.3450 0.3050 1.2375 -0.3400 573.70 510.16)"/>
<circle r="27.20" fill="none" stroke="#000" stroke-width="0.5" stroke-opacity="0.10" vector-effect="non-scaling-stroke" transform="matrix(1.3450 0.3050 1.2375 -0.3400 573.70 510.16)"/>
<circle r="26.99" fill="#0045ff" transform="matrix(1.3450 0.3050 1.2375 -0.3400 573.70 509.15)"/>
<circle r="26.79" fill="#0045ff" transform="matrix(1.3450 0.3050 1.2375 -0.3400 573.70 508.15)"/>
<circle r="26.56" fill="#007aff" transform="matrix(1.3450 0.3050 1.2375 -0.3400 573.70 507.14)"/>
<circle r="26.56" fill="none" stroke="#000" stroke-width="0.5" stroke-opacity="0.10" vector-effect="non-scaling-stroke" transform="matrix(1.3450 0.3050 1.2375 -0.3400 573.70 507.14)"/>
<circle r="26.33" fill="#007aff" transform="matrix(1.3450 0.3050 1.2375 -0.3400 573.70 506.13)"/>
<circle r="26.11" fill="#007aff" transform="matrix(1.3450 0.3050 1.2375 -0.3400 573.70 505.13)"/>
<circle r="25.88" fill="#00b3ff" transform="matrix(1.3450 0.3050 1.2375 -0.3400 573.70 504.12)"/>
<circle r="25.88" fill="none" stroke="#000" stroke-width="0.5" stroke-opacity="0.10" vector-effect="non-scaling-stroke" transform="matrix(1.3450 0.3050 1.2375 -0.3400 573.70 504.12)"/>
<circle r="25.66" fill="#00b3ff" transform="matrix(1.3450 0.3050 1.2375 -0.3400 573.70 503.11)"/>
<circle r="25.44" fill="#00b3ff" transform="matrix(1.3450 0.3050 1.2375 -0.3400 573.70 502.11)"/>
<circle r="25.23" fill="#00f0ff" transform="matrix(1.3450 0.3050 1.2375 -0.3400 573.70 501.10)"/>
<circle r="25.23" fill="none" stroke="#ffffff" stroke-width="0.9" stroke-opacity="0.55" stroke-dasharray="2,1" vector-effect="non-scaling-stroke" transform="matrix(1.3450 0.3050 1.2375 -0.3400 573.70 501.10)"/>
<circle r="25.01" fill="#00f0ff" transform="matrix(1.3450 0.3050 1.2375 -0.3400 573.70 500.09)"/>
<circle r="24.80" fill="#00f0ff" transform="matrix(1.3450 0.3050 1.2375 -0.3400 573.70 499.09)"/>
<circle r="24.60" fill="#00ffbb" transform="matrix(1.3450 0.3050 1.2375 -0.3400 573.70 498.08)"/>
<circle r="24.60" fill="none" stroke="#000" stroke-width="0.5" stroke-opacity="0.10" vector-effect="non-scaling-stroke" transform="matrix(1.3450 0.3050 1.2375 -0.3400 573.70 498.08)"/>
<circle r="24.39" fill="#00ffbb" transform="matrix(1.3450 0.3050 1.2375 -0.3400 573.70 497.07)"/>
<circle r="24.19" fill="#00ffbb" transform="matrix(1.3450 0.3050 1.2375 -0.3400 573.70 496.07)"/>
<circle r="24.00" fill="#00ff6e" transform="matrix(1.3450 0.3050 1.2375 -0.3400 573.70 495.06)"/>
<circle r="24.00" fill="none" stroke="#000" stroke-width="0.5" stroke-opacity="0.10" vector-effect="non-scaling-stroke" transform="matrix(1.3450 0.3050 1.2375 -0.3400 573.70 495.06)"/>
<circle r="23.81" fill="#00ff6e" transform="matrix(1.3450 0.3050 1.2375 -0.3400 573.70 494.05)"/>
<circle r="23.62" fill="#00ff6e" transform="matrix(1.3450 0.3050 1.2375 -0.3400 573.70 493.05)"/>
<circle r="23.44" fill="#00ff33" transform="matrix(1.3450 0.3050 1.2375 -0.3400 573.70 492.04)"/>
<circle r="23.44" fill="none" stroke="#000" stroke-width="0.5" stroke-opacity="0.10" vector-effect="non-scaling-stroke" transform="matrix(1.3450 0.3050 1.2375 -0.3400 573.70 492.04)"/>
<circle r="23.26" fill="#00ff33" transform="matrix(1.3450 0.3050 1.2375 -0.3400 573.70 491.03)"/>
<circle r="23.08" fill="#00ff33" transform="matrix(1.3450 0.3050 1.2375 -0.3400 573.70 490.03)"/>
<circle r="22.90" fill="#00ff09" transform="matrix(1.3450 0.3050 1.2375 -0.3400 573.70 489.02)"/>
<circle r="22.90" fill="none" stroke="#000" stroke-width="0.5" stroke-opacity="0.10" vector-effect="non-scaling-stroke" transform="matrix(1.3450 0.3050 1.2375 -0.3400 573.70 489.02)"/>
<circle r="22.73" fill="#00ff09" transform="matrix(1.3450 0.3050 1.2375 -0.3400 573.70 488.01)"/>
<circle r="22.55" fill="#00ff09" transform="matrix(1.3450 0.3050 1.2375 -0.3400 573.70 487.01)"/>
<circle r="22.38" fill="#0fff00" transform="matrix(1.3450 0.3050 1.2375 -0.3400 573.70 486.00)"/>
<circle r="22.38" fill="none" stroke="#000" stroke-width="0.5" stroke-opacity="0.10" vector-effect="non-scaling-stroke" transform="matrix(1.3450 0.3050 1.2375 -0.3400 573.70 486.00)"/>
<circle r="22.20" fill="#0fff00" transform="matrix(1.3450 0.3050 1.2375 -0.3400 573.70 484.99)"/>
<circle r="22.02" fill="#0fff00" transform="matrix(1.3450 0.3050 1.2375 -0.3400 573.70 483.99)"/>
<circle r="21.84" fill="#27ff00" transform="matrix(1.3450 0.3050 1.2375 -0.3400 573.70 482.98)"/>
<circle r="21.84" fill="none" stroke="#000" stroke-width="0.5" stroke-opacity="0.10" vector-effect="non-scaling-stroke" transform="matrix(1.3450 0.3050 1.2375 -0.3400 573.70 482.98)"/>
<circle r="21.66" fill="#27ff00" transform="matrix(1.3450 0.3050 1.2375 -0.3400 573.70 481.97)"/>
<circle r="21.48" fill="#27ff00" transform="matrix(1.3450 0.3050 1.2375 -0.3400 573.70 480.97)"/>
<circle r="21.29" fill="#56ff00" transform="matrix(1.3450 0.3050 1.2375 -0.3400 573.70 479.96)"/>
<circle r="21.29" fill="none" stroke="#000" stroke-width="0.5" stroke-opacity="0.10" vector-effect="non-scaling-stroke" transform="matrix(1.3450 0.3050 1.2375 -0.3400 573.70 479.96)"/>
<circle r="21.11" fill="#56ff00" transform="matrix(1.3450 0.3050 1.2375 -0.3400 573.70 478.95)"/>
<circle r="20.94" fill="#56ff00" transform="matrix(1.3450 0.3050 1.2375 -0.3400 573.70 477.95)"/>
<circle r="20.77" fill="#9bff00" transform="matrix(1.3450 0.3050 1.2375 -0.3400 573.70 476.94)"/>
<circle r="20.77" fill="none" stroke="#000" stroke-width="0.5" stroke-opacity="0.10" vector-effect="non-scaling-stroke" transform="matrix(1.3450 0.3050 1.2375 -0.3400 573.70 476.94)"/>
<circle r="20.60" fill="#9bff00" transform="matrix(1.3450 0.3050 1.2375 -0.3400 573.70 475.93)"/>
<circle r="20.44" fill="#9bff00" transform="matrix(1.3450 0.3050 1.2375 -0.3400 573.70 474.93)"/>
<circle r="20.28" fill="#deff00" transform="matrix(1.3450 0.3050 1.2375 -0.3400 573.70 473.92)"/>
<circle r="20.28" fill="none" stroke="#000" stroke-width="0.5" stroke-opacity="0.10" vector-effect="non-scaling-stroke" transform="matrix(1.3450 0.3050 1.2375 -0.3400 573.70 473.92)"/>
<circle r="20.11" fill="#deff00" transform="matrix(1.3450 0.3050 1.2375 -0.3400 573.70 472.91)"/>
<circle r="19.94" fill="#deff00" transform="matrix(1.3450 0.3050 1.2375 -0.3400 573.70 471.91)"/>
<circle r="19.75" fill="#ffe400" transform="matrix(1.3450 0.3050 1.2375 -0.3400 573.70 470.90)"/>
<circle r="19.75" fill="none" stroke="#ffffff" stroke-width="0.9" stroke-opacity="0.85" stroke-dasharray="2,1" vector-effect="non-scaling-stroke" transform="matrix(1.3450 0.3050 1.2375 -0.3400 573.70 470.90)"/>
<circle r="19.56" fill="#ffe400" transform="matrix(1.3450 0.3050 1.2375 -0.3400 573.70 469.89)"/>
<circle r="19.33" fill="#ffe400" transform="matrix(1.3450 0.3050 1.2375 -0.3400 573.70 468.89)"/>
<circle r="19.06" fill="#ffaf00" transform="matrix(1.3450 0.3050 1.2375 -0.3400 573.70 467.88)"/>
<circle r="19.06" fill="none" stroke="#000" stroke-width="0.5" stroke-opacity="0.10" vector-effect="non-scaling-stroke" transform="matrix(1.3450 0.3050 1.2375 -0.3400 573.70 467.88)"/>
<circle r="18.63" fill="#ffaf00" transform="matrix(1.3450 0.3050 1.2375 -0.3400 573.70 466.87)"/>
<circle r="18.06" fill="#ffaf00" transform="matrix(1.3450 0.3050 1.2375 -0.3400 573.70 465.87)"/>
<circle r="17.36" fill="#ff7900" transform="matrix(1.3450 0.3050 1.2375 -0.3400 573.70 464.86)"/>
<circle r="17.36" fill="none" stroke="#000" stroke-width="0.5" stroke-opacity="0.10" vector-effect="non-scaling-stroke" transform="matrix(1.3450 0.3050 1.2375 -0.3400 573.70 464.86)"/>
<circle r="16.48" fill="#ff7900" transform="matrix(1.3450 0.3050 1.2375 -0.3400 573.70 463.85)"/>
<circle r="15.37" fill="#ff7900" transform="matrix(1.3450 0.3050 1.2375 -0.3400 573.70 462.85)"/>
<circle r="14.16" fill="#ff4800" transform="matrix(1.3450 0.3050 1.2375 -0.3400 573.70 461.84)"/>
<circle r="14.16" fill="none" stroke="#000" stroke-width="0.5" stroke-opacity="0.10" vector-effect="non-scaling-stroke" transform="matrix(1.3450 0.3050 1.2375 -0.3400 573.70 461.84)"/>
<circle r="12.98" fill="#ff4800" transform="matrix(1.3450 0.3050 1.2375 -0.3400 573.70 460.83)"/>
<circle r="11.66" fill="#ff4800" transform="matrix(1.3450 0.3050 1.2375 -0.3400 573.70 459.83)"/>
<circle r="10.14" fill="#ff1e00" transform="matrix(1.3450 0.3050 1.2375 -0.3400 573.70 458.82)"/>
<circle r="10.14" fill="none" stroke="#000" stroke-width="0.5" stroke-opacity="0.10" vector-effect="non-scaling-stroke" transform="matrix(1.3450 0.3050 1.2375 -0.3400 573.70 458.82)"/>
<circle r="8.30" fill="#ff1e00" transform="matrix(1.3450 0.3050 1.2375 -0.3400 573.70 457.81)"/>
<circle r="6.07" fill="#ff1e00" transform="matrix(1.3450 0.3050 1.2375 -0.3400 573.70 456.81)"/>
<text x="468.80" y="457.50" font-size="6.60" font-weight="normal" text-anchor="end" fill="#333" font-family="Liberation Sans" textLength="12.50" lengthAdjust="spacingAndGlyphs">0.06</text>
<text x="468.80" y="467.70" font-size="6.60" font-weight="normal" text-anchor="end" fill="#333" font-family="Liberation Sans" textLength="12.50" lengthAdjust="spacingAndGlyphs">0.05</text>
<text x="468.80" y="477.90" font-size="6.60" font-weight="normal" text-anchor="end" fill="#333" font-family="Liberation Sans" textLength="12.50" lengthAdjust="spacingAndGlyphs">0.04</text>
<text x="468.80" y="488.10" font-size="6.60" font-weight="normal" text-anchor="end" fill="#333" font-family="Liberation Sans" textLength="12.50" lengthAdjust="spacingAndGlyphs">0.03</text>
<text x="468.80" y="497.90" font-size="6.60" font-weight="normal" text-anchor="end" fill="#333" font-family="Liberation Sans" textLength="12.50" lengthAdjust="spacingAndGlyphs">0.02</text>
<text x="468.80" y="508.10" font-size="6.60" font-weight="normal" text-anchor="end" fill="#333" font-family="Liberation Sans" textLength="12.50" lengthAdjust="spacingAndGlyphs">0.01</text>
<text x="462.55" y="518.10" font-size="6.60" font-weight="normal" text-anchor="middle" fill="#333" font-family="Liberation Sans" textLength="3.60" lengthAdjust="spacingAndGlyphs">0</text>
<text x="0" y="0" font-family="Liberation Serif" font-size="7.6" fill="#333" text-anchor="middle" transform="translate(449.0 481.3) rotate(-90)" textLength="50.0" lengthAdjust="spacingAndGlyphs">Irradiance,<tspan font-style="italic">W / mm</tspan><tspan dy="-2.5" font-size="5">2</tspan></text>
<text x="481.30" y="526.70" font-size="6.80" font-weight="normal" text-anchor="middle" fill="#333" font-family="Liberation Sans" textLength="12.00" lengthAdjust="spacingAndGlyphs">-40</text>
<text x="504.00" y="532.30" font-size="6.80" font-weight="normal" text-anchor="middle" fill="#333" font-family="Liberation Sans" textLength="12.00" lengthAdjust="spacingAndGlyphs">-20</text>
<text x="524.40" y="536.90" font-size="6.80" font-weight="normal" text-anchor="middle" fill="#333" font-family="Liberation Sans" textLength="4.00" lengthAdjust="spacingAndGlyphs">0</text>
<text x="546.00" y="541.50" font-size="6.80" font-weight="normal" text-anchor="middle" fill="#333" font-family="Liberation Sans" textLength="8.00" lengthAdjust="spacingAndGlyphs">20</text>
<text x="567.50" y="546.70" font-size="6.80" font-weight="normal" text-anchor="middle" fill="#333" font-family="Liberation Sans" textLength="8.00" lengthAdjust="spacingAndGlyphs">40</text>
<text x="589.00" y="546.40" font-size="6.80" font-weight="normal" text-anchor="middle" fill="#333" font-family="Liberation Sans" textLength="12.00" lengthAdjust="spacingAndGlyphs">-40</text>
<text x="608.90" y="540.80" font-size="6.80" font-weight="normal" text-anchor="middle" fill="#333" font-family="Liberation Sans" textLength="12.00" lengthAdjust="spacingAndGlyphs">-20</text>
<text x="627.40" y="535.10" font-size="6.80" font-weight="normal" text-anchor="middle" fill="#333" font-family="Liberation Sans" textLength="4.00" lengthAdjust="spacingAndGlyphs">0</text>
<text x="647.20" y="530.20" font-size="6.80" font-weight="normal" text-anchor="middle" fill="#333" font-family="Liberation Sans" textLength="8.00" lengthAdjust="spacingAndGlyphs">20</text>
<text x="666.90" y="525.00" font-size="6.80" font-weight="normal" text-anchor="middle" fill="#333" font-family="Liberation Sans" textLength="8.00" lengthAdjust="spacingAndGlyphs">40</text>
<text x="0" y="0" font-family="Liberation Serif" font-style="italic" font-weight="bold" font-size="8" fill="#333" text-anchor="middle" transform="translate(519.3 542.5) rotate(14.0)" textLength="24.0" lengthAdjust="spacingAndGlyphs">X / mm</text>
<text x="0" y="0" font-family="Liberation Serif" font-weight="bold" font-size="8" fill="#333" text-anchor="middle" transform="translate(637.4 542.0) rotate(-14.0)" textLength="23.0" lengthAdjust="spacingAndGlyphs">Y <tspan font-style="italic">/ mm</tspan></text>
<rect x="694.4" y="518.85" width="13.1" height="4.15" fill="#000fed"/>
<rect x="694.4" y="514.99" width="4.2" height="4.15" fill="#002fff"/>
<rect x="694.4" y="511.14" width="4.2" height="4.15" fill="#005cff"/>
<rect x="694.4" y="507.29" width="8.6" height="4.15" fill="#009cff"/>
<rect x="694.4" y="503.44" width="4.2" height="4.15" fill="#00e4ff"/>
<rect x="694.4" y="499.58" width="8.6" height="4.15" fill="#00ffbe"/>
<rect x="694.4" y="495.73" width="4.2" height="4.15" fill="#00ff65"/>
<rect x="694.4" y="491.88" width="8.6" height="4.15" fill="#00ff20"/>
<rect x="694.4" y="488.02" width="4.2" height="4.15" fill="#03ff00"/>
<rect x="694.4" y="484.17" width="8.6" height="4.15" fill="#1fff00"/>
<rect x="694.4" y="480.32" width="4.2" height="4.15" fill="#4bff00"/>
<rect x="694.4" y="476.46" width="6.4" height="4.15" fill="#9dff00"/>
<rect x="694.4" y="472.61" width="8.6" height="4.15" fill="#ebff00"/>
<rect x="694.4" y="468.76" width="6.4" height="4.15" fill="#ffd000"/>
<rect x="694.4" y="464.91" width="8.6" height="4.15" fill="#ff9100"/>
<rect x="694.4" y="461.05" width="8.6" height="4.15" fill="#ff5400"/>
<rect x="694.4" y="457.20" width="8.6" height="4.15" fill="#ff2100"/>
<line x1="698.80" y1="464.91" x2="698.80" y2="514.99" stroke="#444" stroke-width="0.50"/>
<line x1="708.90" y1="457.20" x2="708.90" y2="522.70" stroke="#8a7a7a" stroke-width="0.60"/>
<text x="710.40" y="459.20" font-size="5.60" font-weight="normal" text-anchor="start" fill="#333" font-family="Liberation Sans" textLength="22.50" lengthAdjust="spacingAndGlyphs">0.0604</text>
<text x="710.40" y="468.56" font-size="5.60" font-weight="normal" text-anchor="start" fill="#333" font-family="Liberation Sans" textLength="22.50" lengthAdjust="spacingAndGlyphs">0.0518</text>
<text x="710.40" y="477.91" font-size="5.60" font-weight="normal" text-anchor="start" fill="#333" font-family="Liberation Sans" textLength="22.50" lengthAdjust="spacingAndGlyphs">0.0432</text>
<text x="710.40" y="487.27" font-size="5.60" font-weight="normal" text-anchor="start" fill="#333" font-family="Liberation Sans" textLength="22.50" lengthAdjust="spacingAndGlyphs">0.0345</text>
<text x="710.40" y="496.63" font-size="5.60" font-weight="normal" text-anchor="start" fill="#333" font-family="Liberation Sans" textLength="22.50" lengthAdjust="spacingAndGlyphs">0.0259</text>
<text x="710.40" y="505.99" font-size="5.60" font-weight="normal" text-anchor="start" fill="#333" font-family="Liberation Sans" textLength="22.50" lengthAdjust="spacingAndGlyphs">0.0173</text>
<text x="710.40" y="515.34" font-size="5.60" font-weight="normal" text-anchor="start" fill="#333" font-family="Liberation Sans" textLength="26.25" lengthAdjust="spacingAndGlyphs">0.00863</text>
<text x="710.40" y="524.70" font-size="5.60" font-weight="normal" text-anchor="start" fill="#333" font-family="Liberation Sans" textLength="3.75" lengthAdjust="spacingAndGlyphs">0</text>
<text x="677.5" y="447.8" font-family="Liberation Serif" font-weight="bold" font-size="7.6" fill="#333" textLength="65.4" lengthAdjust="spacingAndGlyphs">Irradiance,<tspan font-style="italic">W / mm</tspan><tspan dy="-2.5" font-size="5">2</tspan></text>
<rect x="439.5" y="554.6" width="307.3" height="126.8" fill="#fff" stroke="#1e1e24" stroke-width="1.3"/>
<polygon points="474.5,642.4 564.5,610.7 564.5,560.2 474.5,591.9" fill="#fff" stroke="none"/>
<polygon points="564.5,610.7 664.3,638.6 664.3,588.1 564.5,560.2" fill="#fff" stroke="none"/>
<polygon points="474.5,632.8 564.5,601.1 564.5,591.5 474.5,623.2" fill="#e2e2f7"/>
<polygon points="564.5,601.1 664.3,629.0 664.3,619.4 564.5,591.5" fill="#e2e2f7"/>
<polygon points="474.5,613.5 564.5,581.8 564.5,572.2 474.5,603.9" fill="#e2e2f7"/>
<polygon points="564.5,581.8 664.3,609.7 664.3,600.1 564.5,572.2" fill="#e2e2f7"/>
<polygon points="474.5,594.3 564.5,562.6 564.5,560.2 474.5,591.9" fill="#e2e2f7"/>
<polygon points="564.5,562.6 664.3,590.5 664.3,588.1 564.5,560.2" fill="#e2e2f7"/>
<polyline points="474.5,591.9 564.5,560.2 664.3,588.1" fill="none" stroke="#d8d8e4" stroke-width="0.7"/>
<line x1="564.50" y1="610.70" x2="564.50" y2="560.20" stroke="#d0d0dc" stroke-width="0.70"/>
<line x1="474.50" y1="642.40" x2="474.50" y2="591.90" stroke="#9a9aa4" stroke-width="0.80"/>
<line x1="664.30" y1="638.60" x2="664.30" y2="588.10" stroke="#e0e0ea" stroke-width="0.60"/>
<polygon points="474.5,642.4 574.3,670.3 664.3,638.6 564.5,610.7" fill="#0000f2"/>
<path d="M474.5,642.4 C486,639 496,635 503,630.5 C507,628 510,626 514,624 L522,624 L522,644 Z" fill="#0000f2"/>
<path d="M664.3,638.6 C655,635.5 645,632 638,628.5 C634,626.5 632,625 629,623.5 L618,623.5 L618,644 Z" fill="#0000f2"/>
<circle r="38.91" fill="#000ced" transform="matrix(1.2475 0.3487 1.1250 -0.3962 569.40 639.64)"/>
<circle r="38.40" fill="#000ced" transform="matrix(1.2475 0.3487 1.1250 -0.3962 569.40 638.78)"/>
<circle r="37.96" fill="#0028ff" transform="matrix(1.2475 0.3487 1.1250 -0.3962 569.40 637.92)"/>
<circle r="37.96" fill="none" stroke="#000" stroke-width="0.5" stroke-opacity="0.10" vector-effect="non-scaling-stroke" transform="matrix(1.2475 0.3487 1.1250 -0.3962 569.40 637.92)"/>
<circle r="37.69" fill="#0028ff" transform="matrix(1.2475 0.3487 1.1250 -0.3962 569.40 637.06)"/>
<circle r="37.50" fill="#0028ff" transform="matrix(1.2475 0.3487 1.1250 -0.3962 569.40 636.20)"/>
<circle r="37.34" fill="#0045ff" transform="matrix(1.2475 0.3487 1.1250 -0.3962 569.40 635.34)"/>
<circle r="37.34" fill="none" stroke="#000" stroke-width="0.5" stroke-opacity="0.10" vector-effect="non-scaling-stroke" transform="matrix(1.2475 0.3487 1.1250 -0.3962 569.40 635.34)"/>
<circle r="37.18" fill="#0045ff" transform="matrix(1.2475 0.3487 1.1250 -0.3962 569.40 634.48)"/>
<circle r="37.04" fill="#0045ff" transform="matrix(1.2475 0.3487 1.1250 -0.3962 569.40 633.62)"/>
<circle r="36.90" fill="#007aff" transform="matrix(1.2475 0.3487 1.1250 -0.3962 569.40 632.77)"/>
<circle r="36.90" fill="none" stroke="#000" stroke-width="0.5" stroke-opacity="0.10" vector-effect="non-scaling-stroke" transform="matrix(1.2475 0.3487 1.1250 -0.3962 569.40 632.77)"/>
<circle r="36.75" fill="#007aff" transform="matrix(1.2475 0.3487 1.1250 -0.3962 569.40 631.91)"/>
<circle r="36.61" fill="#007aff" transform="matrix(1.2475 0.3487 1.1250 -0.3962 569.40 631.05)"/>
<circle r="36.45" fill="#00b3ff" transform="matrix(1.2475 0.3487 1.1250 -0.3962 569.40 630.19)"/>
<circle r="36.45" fill="none" stroke="#000" stroke-width="0.5" stroke-opacity="0.10" vector-effect="non-scaling-stroke" transform="matrix(1.2475 0.3487 1.1250 -0.3962 569.40 630.19)"/>
<circle r="36.29" fill="#00b3ff" transform="matrix(1.2475 0.3487 1.1250 -0.3962 569.40 629.33)"/>
<circle r="36.12" fill="#00b3ff" transform="matrix(1.2475 0.3487 1.1250 -0.3962 569.40 628.47)"/>
<circle r="35.96" fill="#00f0ff" transform="matrix(1.2475 0.3487 1.1250 -0.3962 569.40 627.61)"/>
<circle r="35.96" fill="none" stroke="#ffffff" stroke-width="0.9" stroke-opacity="0.55" stroke-dasharray="2,1" vector-effect="non-scaling-stroke" transform="matrix(1.2475 0.3487 1.1250 -0.3962 569.40 627.61)"/>
<circle r="35.80" fill="#00f0ff" transform="matrix(1.2475 0.3487 1.1250 -0.3962 569.40 626.75)"/>
<circle r="35.64" fill="#00f0ff" transform="matrix(1.2475 0.3487 1.1250 -0.3962 569.40 625.89)"/>
<circle r="35.48" fill="#00ffbb" transform="matrix(1.2475 0.3487 1.1250 -0.3962 569.40 625.03)"/>
<circle r="35.48" fill="none" stroke="#000" stroke-width="0.5" stroke-opacity="0.10" vector-effect="non-scaling-stroke" transform="matrix(1.2475 0.3487 1.1250 -0.3962 569.40 625.03)"/>
<circle r="35.32" fill="#00ffbb" transform="matrix(1.2475 0.3487 1.1250 -0.3962 569.40 624.17)"/>
<circle r="35.16" fill="#00ffbb" transform="matrix(1.2475 0.3487 1.1250 -0.3962 569.40 623.31)"/>
<circle r="35.00" fill="#00ff6e" transform="matrix(1.2475 0.3487 1.1250 -0.3962 569.40 622.45)"/>
<circle r="35.00" fill="none" stroke="#000" stroke-width="0.5" stroke-opacity="0.10" vector-effect="non-scaling-stroke" transform="matrix(1.2475 0.3487 1.1250 -0.3962 569.40 622.45)"/>
<circle r="34.83" fill="#00ff6e" transform="matrix(1.2475 0.3487 1.1250 -0.3962 569.40 621.59)"/>
<circle r="34.67" fill="#00ff6e" transform="matrix(1.2475 0.3487 1.1250 -0.3962 569.40 620.73)"/>
<circle r="34.49" fill="#00ff33" transform="matrix(1.2475 0.3487 1.1250 -0.3962 569.40 619.87)"/>
<circle r="34.49" fill="none" stroke="#000" stroke-width="0.5" stroke-opacity="0.10" vector-effect="non-scaling-stroke" transform="matrix(1.2475 0.3487 1.1250 -0.3962 569.40 619.87)"/>
<circle r="34.32" fill="#00ff33" transform="matrix(1.2475 0.3487 1.1250 -0.3962 569.40 619.02)"/>
<circle r="34.14" fill="#00ff33" transform="matrix(1.2475 0.3487 1.1250 -0.3962 569.40 618.16)"/>
<circle r="33.96" fill="#00ff09" transform="matrix(1.2475 0.3487 1.1250 -0.3962 569.40 617.30)"/>
<circle r="33.96" fill="none" stroke="#000" stroke-width="0.5" stroke-opacity="0.10" vector-effect="non-scaling-stroke" transform="matrix(1.2475 0.3487 1.1250 -0.3962 569.40 617.30)"/>
<circle r="33.77" fill="#00ff09" transform="matrix(1.2475 0.3487 1.1250 -0.3962 569.40 616.44)"/>
<circle r="33.59" fill="#00ff09" transform="matrix(1.2475 0.3487 1.1250 -0.3962 569.40 615.58)"/>
<circle r="33.40" fill="#0fff00" transform="matrix(1.2475 0.3487 1.1250 -0.3962 569.40 614.72)"/>
<circle r="33.40" fill="none" stroke="#000" stroke-width="0.5" stroke-opacity="0.10" vector-effect="non-scaling-stroke" transform="matrix(1.2475 0.3487 1.1250 -0.3962 569.40 614.72)"/>
<circle r="33.21" fill="#0fff00" transform="matrix(1.2475 0.3487 1.1250 -0.3962 569.40 613.86)"/>
<circle r="33.01" fill="#0fff00" transform="matrix(1.2475 0.3487 1.1250 -0.3962 569.40 613.00)"/>
<circle r="32.82" fill="#27ff00" transform="matrix(1.2475 0.3487 1.1250 -0.3962 569.40 612.14)"/>
<circle r="32.82" fill="none" stroke="#000" stroke-width="0.5" stroke-opacity="0.10" vector-effect="non-scaling-stroke" transform="matrix(1.2475 0.3487 1.1250 -0.3962 569.40 612.14)"/>
<circle r="32.62" fill="#27ff00" transform="matrix(1.2475 0.3487 1.1250 -0.3962 569.40 611.28)"/>
<circle r="32.42" fill="#27ff00" transform="matrix(1.2475 0.3487 1.1250 -0.3962 569.40 610.42)"/>
<circle r="32.22" fill="#56ff00" transform="matrix(1.2475 0.3487 1.1250 -0.3962 569.40 609.56)"/>
<circle r="32.22" fill="none" stroke="#000" stroke-width="0.5" stroke-opacity="0.10" vector-effect="non-scaling-stroke" transform="matrix(1.2475 0.3487 1.1250 -0.3962 569.40 609.56)"/>
<circle r="32.01" fill="#56ff00" transform="matrix(1.2475 0.3487 1.1250 -0.3962 569.40 608.70)"/>
<circle r="31.80" fill="#56ff00" transform="matrix(1.2475 0.3487 1.1250 -0.3962 569.40 607.84)"/>
<circle r="31.58" fill="#9bff00" transform="matrix(1.2475 0.3487 1.1250 -0.3962 569.40 606.98)"/>
<circle r="31.58" fill="none" stroke="#000" stroke-width="0.5" stroke-opacity="0.10" vector-effect="non-scaling-stroke" transform="matrix(1.2475 0.3487 1.1250 -0.3962 569.40 606.98)"/>
<circle r="31.36" fill="#9bff00" transform="matrix(1.2475 0.3487 1.1250 -0.3962 569.40 606.12)"/>
<circle r="31.14" fill="#9bff00" transform="matrix(1.2475 0.3487 1.1250 -0.3962 569.40 605.27)"/>
<circle r="30.92" fill="#deff00" transform="matrix(1.2475 0.3487 1.1250 -0.3962 569.40 604.41)"/>
<circle r="30.92" fill="none" stroke="#000" stroke-width="0.5" stroke-opacity="0.10" vector-effect="non-scaling-stroke" transform="matrix(1.2475 0.3487 1.1250 -0.3962 569.40 604.41)"/>
<circle r="30.69" fill="#deff00" transform="matrix(1.2475 0.3487 1.1250 -0.3962 569.40 603.55)"/>
<circle r="30.47" fill="#deff00" transform="matrix(1.2475 0.3487 1.1250 -0.3962 569.40 602.69)"/>
<circle r="30.24" fill="#ffe400" transform="matrix(1.2475 0.3487 1.1250 -0.3962 569.40 601.83)"/>
<circle r="30.24" fill="none" stroke="#ffffff" stroke-width="0.9" stroke-opacity="0.85" stroke-dasharray="2,1" vector-effect="non-scaling-stroke" transform="matrix(1.2475 0.3487 1.1250 -0.3962 569.40 601.83)"/>
<circle r="30.02" fill="#ffe400" transform="matrix(1.2475 0.3487 1.1250 -0.3962 569.40 600.97)"/>
<circle r="29.80" fill="#ffe400" transform="matrix(1.2475 0.3487 1.1250 -0.3962 569.40 600.11)"/>
<circle r="29.60" fill="#ffaf00" transform="matrix(1.2475 0.3487 1.1250 -0.3962 569.40 599.25)"/>
<circle r="29.60" fill="none" stroke="#000" stroke-width="0.5" stroke-opacity="0.10" vector-effect="non-scaling-stroke" transform="matrix(1.2475 0.3487 1.1250 -0.3962 569.40 599.25)"/>
<circle r="29.42" fill="#ffaf00" transform="matrix(1.2475 0.3487 1.1250 -0.3962 569.40 598.39)"/>
<circle r="29.24" fill="#ffaf00" transform="matrix(1.2475 0.3487 1.1250 -0.3962 569.40 597.53)"/>
<circle r="29.07" fill="#ff7900" transform="matrix(1.2475 0.3487 1.1250 -0.3962 569.40 596.67)"/>
<circle r="29.07" fill="none" stroke="#000" stroke-width="0.5" stroke-opacity="0.10" vector-effect="non-scaling-stroke" transform="matrix(1.2475 0.3487 1.1250 -0.3962 569.40 596.67)"/>
<circle r="28.90" fill="#ff7900" transform="matrix(1.2475 0.3487 1.1250 -0.3962 569.40 595.81)"/>
<circle r="28.71" fill="#ff7900" transform="matrix(1.2475 0.3487 1.1250 -0.3962 569.40 594.95)"/>
<circle r="28.49" fill="#ff4800" transform="matrix(1.2475 0.3487 1.1250 -0.3962 569.40 594.09)"/>
<circle r="28.49" fill="none" stroke="#000" stroke-width="0.5" stroke-opacity="0.10" vector-effect="non-scaling-stroke" transform="matrix(1.2475 0.3487 1.1250 -0.3962 569.40 594.09)"/>
<circle r="28.18" fill="#ff4800" transform="matrix(1.2475 0.3487 1.1250 -0.3962 569.40 593.23)"/>
<circle r="27.18" fill="#ff4800" transform="matrix(1.2475 0.3487 1.1250 -0.3962 569.40 592.37)"/>
<circle r="25.70" fill="#ff1e00" transform="matrix(1.2475 0.3487 1.1250 -0.3962 569.40 591.51)"/>
<circle r="25.70" fill="none" stroke="#000" stroke-width="0.5" stroke-opacity="0.10" vector-effect="non-scaling-stroke" transform="matrix(1.2475 0.3487 1.1250 -0.3962 569.40 591.51)"/>
<circle r="23.34" fill="#ff1e00" transform="matrix(1.2475 0.3487 1.1250 -0.3962 569.40 590.66)"/>
<circle r="17.16" fill="#ff1e00" transform="matrix(1.2475 0.3487 1.1250 -0.3962 569.40 589.80)"/>
<circle r="27.0" fill="#f8401a" transform="matrix(1.2475 0.3487 1.1250 -0.3962 569.40 592.02)"/>
<circle r="23.5" fill="none" stroke="#c84020" stroke-width="0.5" stroke-opacity="0.5" vector-effect="non-scaling-stroke" transform="matrix(1.2475 0.3487 1.1250 -0.3962 569.40 590.86)"/>
<g fill="#ff0a00" stroke="#d8401a" stroke-width="0.6">
<path d="M529.2,590.8 C529.2,586.5 535,586 545,586 L558,586 C558,581 560,579.6 570,579.6 C580,579.6 582,581 582,586 L598,586 C608,586 612.6,586.5 612.6,590.8 C612.6,595.2 608,595.6 598,595.6 L582,595.6 C582,602 580,604.5 570,604.5 C560,604.5 558,602 558,595.6 L545,595.6 C535,595.6 529.2,595.2 529.2,590.8 Z"/>
</g>
<text x="473.30" y="593.80" font-size="6.60" font-weight="normal" text-anchor="end" fill="#333" font-family="Liberation Sans" textLength="17.40" lengthAdjust="spacingAndGlyphs">0.025</text>
<text x="473.30" y="603.30" font-size="6.60" font-weight="normal" text-anchor="end" fill="#333" font-family="Liberation Sans" textLength="13.50" lengthAdjust="spacingAndGlyphs">0.02</text>
<text x="473.30" y="613.10" font-size="6.60" font-weight="normal" text-anchor="end" fill="#333" font-family="Liberation Sans" textLength="17.40" lengthAdjust="spacingAndGlyphs">0.015</text>
<text x="473.30" y="622.70" font-size="6.60" font-weight="normal" text-anchor="end" fill="#333" font-family="Liberation Sans" textLength="13.50" lengthAdjust="spacingAndGlyphs">0.01</text>
<text x="473.30" y="632.20" font-size="6.60" font-weight="normal" text-anchor="end" fill="#333" font-family="Liberation Sans" textLength="17.40" lengthAdjust="spacingAndGlyphs">0.005</text>
<text x="464.60" y="641.90" font-size="6.60" font-weight="normal" text-anchor="middle" fill="#333" font-family="Liberation Sans" textLength="3.60" lengthAdjust="spacingAndGlyphs">0</text>
<text x="0" y="0" font-family="Liberation Serif" font-size="7.6" fill="#333" text-anchor="middle" transform="translate(448.6 610.2) rotate(-90)" textLength="43.0" lengthAdjust="spacingAndGlyphs">Irradiance,<tspan font-style="italic">W / mm</tspan><tspan dy="-2.5" font-size="5">2</tspan></text>
<text x="484.70" y="652.20" font-size="6.80" font-weight="normal" text-anchor="middle" fill="#333" font-family="Liberation Sans" textLength="12.00" lengthAdjust="spacingAndGlyphs">-40</text>
<text x="504.40" y="657.80" font-size="6.80" font-weight="normal" text-anchor="middle" fill="#333" font-family="Liberation Sans" textLength="12.00" lengthAdjust="spacingAndGlyphs">-20</text>
<text x="524.40" y="663.50" font-size="6.80" font-weight="normal" text-anchor="middle" fill="#333" font-family="Liberation Sans" textLength="4.00" lengthAdjust="spacingAndGlyphs">0</text>
<text x="544.40" y="668.70" font-size="6.80" font-weight="normal" text-anchor="middle" fill="#333" font-family="Liberation Sans" textLength="8.00" lengthAdjust="spacingAndGlyphs">20</text>
<text x="564.10" y="674.40" font-size="6.80" font-weight="normal" text-anchor="middle" fill="#333" font-family="Liberation Sans" textLength="8.00" lengthAdjust="spacingAndGlyphs">40</text>
<text x="583.40" y="674.10" font-size="6.80" font-weight="normal" text-anchor="middle" fill="#333" font-family="Liberation Sans" textLength="12.00" lengthAdjust="spacingAndGlyphs">-40</text>
<text x="601.40" y="668.00" font-size="6.80" font-weight="normal" text-anchor="middle" fill="#333" font-family="Liberation Sans" textLength="12.00" lengthAdjust="spacingAndGlyphs">-20</text>
<text x="619.50" y="662.20" font-size="6.80" font-weight="normal" text-anchor="middle" fill="#333" font-family="Liberation Sans" textLength="4.00" lengthAdjust="spacingAndGlyphs">0</text>
<text x="637.50" y="656.10" font-size="6.80" font-weight="normal" text-anchor="middle" fill="#333" font-family="Liberation Sans" textLength="8.00" lengthAdjust="spacingAndGlyphs">20</text>
<text x="656.30" y="649.80" font-size="6.80" font-weight="normal" text-anchor="middle" fill="#333" font-family="Liberation Sans" textLength="8.00" lengthAdjust="spacingAndGlyphs">40</text>
<text x="0" y="0" font-family="Liberation Serif" font-style="italic" font-weight="bold" font-size="8" fill="#333" text-anchor="middle" transform="translate(514.8 669.0) rotate(16.0)" textLength="24.0" lengthAdjust="spacingAndGlyphs">X / mm</text>
<text x="0" y="0" font-family="Liberation Serif" font-weight="bold" font-size="8" fill="#333" text-anchor="middle" transform="translate(630.8 667.5) rotate(-16.0)" textLength="25.0" lengthAdjust="spacingAndGlyphs">Y <tspan font-style="italic">/ mm</tspan></text>
<rect x="687.2" y="647.76" width="13.3" height="4.04" fill="#000fed"/>
<rect x="687.2" y="644.02" width="4.2" height="4.04" fill="#002fff"/>
<rect x="687.2" y="640.28" width="4.2" height="4.04" fill="#005cff"/>
<rect x="687.2" y="636.54" width="8.8" height="4.04" fill="#009cff"/>
<rect x="687.2" y="632.79" width="4.2" height="4.04" fill="#00e4ff"/>
<rect x="687.2" y="629.05" width="8.8" height="4.04" fill="#00ffbe"/>
<rect x="687.2" y="625.31" width="4.2" height="4.04" fill="#00ff65"/>
<rect x="687.2" y="621.57" width="8.8" height="4.04" fill="#00ff20"/>
<rect x="687.2" y="617.83" width="4.2" height="4.04" fill="#03ff00"/>
<rect x="687.2" y="614.09" width="8.8" height="4.04" fill="#1fff00"/>
<rect x="687.2" y="610.35" width="4.2" height="4.04" fill="#4bff00"/>
<rect x="687.2" y="606.61" width="6.5" height="4.04" fill="#9dff00"/>
<rect x="687.2" y="602.86" width="8.8" height="4.04" fill="#ebff00"/>
<rect x="687.2" y="599.12" width="6.5" height="4.04" fill="#ffd000"/>
<rect x="687.2" y="595.38" width="8.8" height="4.04" fill="#ff9100"/>
<rect x="687.2" y="591.64" width="8.8" height="4.04" fill="#ff5400"/>
<rect x="687.2" y="587.90" width="8.8" height="4.04" fill="#ff2100"/>
<line x1="691.60" y1="595.38" x2="691.60" y2="644.02" stroke="#444" stroke-width="0.50"/>
<line x1="702.60" y1="587.90" x2="702.60" y2="651.50" stroke="#8a7a7a" stroke-width="0.60"/>
<text x="704.10" y="589.90" font-size="5.60" font-weight="normal" text-anchor="start" fill="#333" font-family="Liberation Sans" textLength="22.50" lengthAdjust="spacingAndGlyphs">0.0268</text>
<text x="704.10" y="598.99" font-size="5.60" font-weight="normal" text-anchor="start" fill="#333" font-family="Liberation Sans" textLength="18.75" lengthAdjust="spacingAndGlyphs">0.023</text>
<text x="704.10" y="608.07" font-size="5.60" font-weight="normal" text-anchor="start" fill="#333" font-family="Liberation Sans" textLength="22.50" lengthAdjust="spacingAndGlyphs">0.0191</text>
<text x="704.10" y="617.16" font-size="5.60" font-weight="normal" text-anchor="start" fill="#333" font-family="Liberation Sans" textLength="22.50" lengthAdjust="spacingAndGlyphs">0.0153</text>
<text x="704.10" y="626.24" font-size="5.60" font-weight="normal" text-anchor="start" fill="#333" font-family="Liberation Sans" textLength="22.50" lengthAdjust="spacingAndGlyphs">0.0115</text>
<text x="704.10" y="635.33" font-size="5.60" font-weight="normal" text-anchor="start" fill="#333" font-family="Liberation Sans" textLength="26.25" lengthAdjust="spacingAndGlyphs">0.00766</text>
<text x="704.10" y="644.41" font-size="5.60" font-weight="normal" text-anchor="start" fill="#333" font-family="Liberation Sans" textLength="26.25" lengthAdjust="spacingAndGlyphs">0.00383</text>
<text x="704.10" y="653.50" font-size="5.60" font-weight="normal" text-anchor="start" fill="#333" font-family="Liberation Sans" textLength="3.75" lengthAdjust="spacingAndGlyphs">0</text>
<text x="673.0" y="582.5" font-family="Liberation Serif" font-weight="bold" font-size="7.6" fill="#333" textLength="69.9" lengthAdjust="spacingAndGlyphs">Irradiance,<tspan font-style="italic">W / mm</tspan><tspan dy="-2.5" font-size="5">2</tspan></text>
<polygon points="496.5,648.2 503.0,646.2 512.9,645.3 521.0,645.6 527.5,647.0 534.0,650.2 539.3,654.3 544.0,658.5 548.1,662.4 551.0,664.0 551.0,663.8 530.0,657.9 510.0,652.3 496.5,648.6" fill="#fff"/>
<polygon points="593.6,663.6 598.0,658.6 603.9,652.6 608.0,649.4 612.7,647.0 618.0,645.8 624.5,645.2 630.0,645.6 636.2,646.6 640.5,647.1 640.5,647.0 620.0,654.2 600.0,661.2 593.6,663.5" fill="#fff"/>
<line x1="474.50" y1="642.40" x2="574.30" y2="670.30" stroke="#777" stroke-width="0.60"/>
<line x1="574.30" y1="670.30" x2="664.30" y2="638.60" stroke="#777" stroke-width="0.60"/>
<text x="593.20" y="698.40" font-size="13.00" font-weight="bold" text-anchor="middle" fill="#111" font-family="Liberation Sans" textLength="207.60" lengthAdjust="spacingAndGlyphs">Energy distribution of the second</text>
<text x="594.60" y="714.40" font-size="13.00" font-weight="bold" text-anchor="middle" fill="#111" font-family="Liberation Sans" textLength="187.90" lengthAdjust="spacingAndGlyphs">focal plane of each condenser</text>
</svg></body></html>
